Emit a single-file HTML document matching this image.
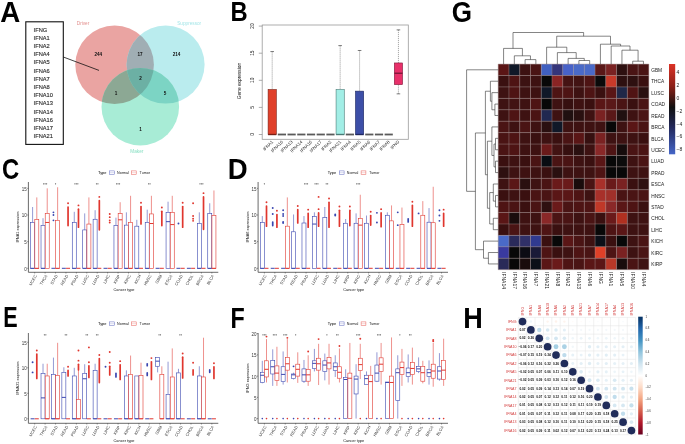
<!DOCTYPE html>
<html><head><meta charset="utf-8"><style>
html,body{margin:0;padding:0;background:#fff;}
svg{display:block;will-change:transform;font-family:"Liberation Sans",sans-serif;}
</style></head><body>
<svg width="685" height="444" viewBox="0 0 685 444">
<rect width="685" height="444" fill="#fff"/>
<text transform="translate(0.31,22.00) scale(0.2772,0.2907)" font-size="100" font-weight="bold" fill="#000">A</text>
<rect x="25.8" y="21.8" width="37.5" height="122.6" fill="none" stroke="#111" stroke-width="1.1"/>
<text x="33.6" y="31.5" font-size="5.7" fill="#2a2a2a" stroke="#2a2a2a" stroke-width="0.12">IFNG</text>
<text x="33.6" y="39.72" font-size="5.7" fill="#2a2a2a" stroke="#2a2a2a" stroke-width="0.12">IFNA1</text>
<text x="33.6" y="47.94" font-size="5.7" fill="#2a2a2a" stroke="#2a2a2a" stroke-width="0.12">IFNA2</text>
<text x="33.6" y="56.16" font-size="5.7" fill="#2a2a2a" stroke="#2a2a2a" stroke-width="0.12">IFNA4</text>
<text x="33.6" y="64.38" font-size="5.7" fill="#2a2a2a" stroke="#2a2a2a" stroke-width="0.12">IFNA5</text>
<text x="33.6" y="72.6" font-size="5.7" fill="#2a2a2a" stroke="#2a2a2a" stroke-width="0.12">IFNA6</text>
<text x="33.6" y="80.82" font-size="5.7" fill="#2a2a2a" stroke="#2a2a2a" stroke-width="0.12">IFNA7</text>
<text x="33.6" y="89.04" font-size="5.7" fill="#2a2a2a" stroke="#2a2a2a" stroke-width="0.12">IFNA8</text>
<text x="33.6" y="97.26" font-size="5.7" fill="#2a2a2a" stroke="#2a2a2a" stroke-width="0.12">IFNA10</text>
<text x="33.6" y="105.48" font-size="5.7" fill="#2a2a2a" stroke="#2a2a2a" stroke-width="0.12">IFNA13</text>
<text x="33.6" y="113.7" font-size="5.7" fill="#2a2a2a" stroke="#2a2a2a" stroke-width="0.12">IFNA14</text>
<text x="33.6" y="121.92" font-size="5.7" fill="#2a2a2a" stroke="#2a2a2a" stroke-width="0.12">IFNA16</text>
<text x="33.6" y="130.14" font-size="5.7" fill="#2a2a2a" stroke="#2a2a2a" stroke-width="0.12">IFNA17</text>
<text x="33.6" y="138.36" font-size="5.7" fill="#2a2a2a" stroke="#2a2a2a" stroke-width="0.12">IFNA21</text>
<defs>
<clipPath id="cR"><circle cx="114.6" cy="64.8" r="39.3"/></clipPath>
<clipPath id="cC"><circle cx="165.6" cy="64.6" r="39.0"/></clipPath>
<clipPath id="cG"><circle cx="140.3" cy="106.7" r="38.8"/></clipPath>
</defs>
<circle cx="114.6" cy="64.8" r="39.3" fill="#eaa4a2"/>
<circle cx="165.6" cy="64.6" r="39.0" fill="#baecee"/>
<circle cx="140.3" cy="106.7" r="38.8" fill="#a8ecd6"/>
<circle cx="165.6" cy="64.6" r="39.0" fill="#a0aeb4" clip-path="url(#cR)"/>
<circle cx="140.3" cy="106.7" r="38.8" fill="#8ca894" clip-path="url(#cR)"/>
<circle cx="140.3" cy="106.7" r="38.8" fill="#7cd4c4" clip-path="url(#cC)"/>
<g clip-path="url(#cC)">
<circle cx="140.3" cy="106.7" r="38.8" fill="#6cb0a4" clip-path="url(#cR)"/>
</g>
<line x1="63.3" y1="57" x2="99" y2="70.4" stroke="#111" stroke-width="0.8"/>
<text x="98.3" y="55.800000000000004" font-size="4.6" font-weight="bold" text-anchor="middle" fill="#111">244</text>
<text x="140" y="55.800000000000004" font-size="4.6" font-weight="bold" text-anchor="middle" fill="#111">17</text>
<text x="176.5" y="55.800000000000004" font-size="4.6" font-weight="bold" text-anchor="middle" fill="#111">214</text>
<text x="140.6" y="80.19999999999999" font-size="4.6" font-weight="bold" text-anchor="middle" fill="#111">2</text>
<text x="116" y="94.89999999999999" font-size="4.6" font-weight="bold" text-anchor="middle" fill="#111">1</text>
<text x="165" y="94.89999999999999" font-size="4.6" font-weight="bold" text-anchor="middle" fill="#111">5</text>
<text x="140.6" y="130.79999999999998" font-size="4.6" font-weight="bold" text-anchor="middle" fill="#111">1</text>
<text x="83" y="24.7" font-size="4.7" text-anchor="middle" fill="#e28e8c">Driver</text>
<text x="189.2" y="24.7" font-size="4.7" text-anchor="middle" fill="#a6e6e8">Suppressor</text>
<text x="136.8" y="152.7" font-size="4.7" text-anchor="middle" fill="#8ae0c4">Maker</text>
<text transform="translate(230.51,20.60) scale(0.2377,0.2849)" font-size="100" font-weight="bold" fill="#000">B</text>
<rect x="262.2" y="25.0" width="146.10000000000002" height="114.30000000000001" fill="none" stroke="#9a9a9a" stroke-width="0.8"/>
<line x1="258.8" y1="134.5" x2="262.2" y2="134.5" stroke="#777" stroke-width="0.6"/>
<text transform="translate(254.3,134.5) rotate(-90)" font-size="4.8" text-anchor="middle" fill="#222">0</text>
<line x1="258.8" y1="107.4" x2="262.2" y2="107.4" stroke="#777" stroke-width="0.6"/>
<text transform="translate(254.3,107.4) rotate(-90)" font-size="4.8" text-anchor="middle" fill="#222">5</text>
<line x1="258.8" y1="80.3" x2="262.2" y2="80.3" stroke="#777" stroke-width="0.6"/>
<text transform="translate(254.3,80.3) rotate(-90)" font-size="4.8" text-anchor="middle" fill="#222">10</text>
<line x1="258.8" y1="53.2" x2="262.2" y2="53.2" stroke="#777" stroke-width="0.6"/>
<text transform="translate(254.3,53.2) rotate(-90)" font-size="4.8" text-anchor="middle" fill="#222">15</text>
<line x1="258.8" y1="26.1" x2="262.2" y2="26.1" stroke="#777" stroke-width="0.6"/>
<text transform="translate(254.3,26.1) rotate(-90)" font-size="4.8" text-anchor="middle" fill="#222">20</text>
<text transform="translate(241.2,81) rotate(-90)" font-size="4.8" text-anchor="middle" fill="#111">Gene expression</text>
<text transform="translate(273.5,142.2) rotate(-45)" font-size="4.4" text-anchor="end" fill="#222">IFNA1</text>
<text transform="translate(283.21,142.2) rotate(-45)" font-size="4.4" text-anchor="end" fill="#222">IFNA10</text>
<text transform="translate(292.92,142.2) rotate(-45)" font-size="4.4" text-anchor="end" fill="#222">IFNA13</text>
<text transform="translate(302.63,142.2) rotate(-45)" font-size="4.4" text-anchor="end" fill="#222">IFNA14</text>
<text transform="translate(312.34,142.2) rotate(-45)" font-size="4.4" text-anchor="end" fill="#222">IFNA16</text>
<text transform="translate(322.05,142.2) rotate(-45)" font-size="4.4" text-anchor="end" fill="#222">IFNA17</text>
<text transform="translate(331.76,142.2) rotate(-45)" font-size="4.4" text-anchor="end" fill="#222">IFNA2</text>
<text transform="translate(341.47,142.2) rotate(-45)" font-size="4.4" text-anchor="end" fill="#222">IFNA21</text>
<text transform="translate(351.18,142.2) rotate(-45)" font-size="4.4" text-anchor="end" fill="#222">IFNA4</text>
<text transform="translate(360.89,142.2) rotate(-45)" font-size="4.4" text-anchor="end" fill="#222">IFNA5</text>
<text transform="translate(370.6,142.2) rotate(-45)" font-size="4.4" text-anchor="end" fill="#222">IFNA6</text>
<text transform="translate(380.31,142.2) rotate(-45)" font-size="4.4" text-anchor="end" fill="#222">IFNA7</text>
<text transform="translate(390.02,142.2) rotate(-45)" font-size="4.4" text-anchor="end" fill="#222">IFNA8</text>
<text transform="translate(399.73,142.2) rotate(-45)" font-size="4.4" text-anchor="end" fill="#222">IFNG</text>
<rect x="277.81" y="133.6" width="8.2" height="1.8" fill="#5a5a5a"/>
<rect x="287.52" y="133.6" width="8.2" height="1.8" fill="#5a5a5a"/>
<rect x="297.23" y="133.6" width="8.2" height="1.8" fill="#5a5a5a"/>
<rect x="306.94" y="133.6" width="8.2" height="1.8" fill="#5a5a5a"/>
<rect x="316.65" y="133.6" width="8.2" height="1.8" fill="#5a5a5a"/>
<rect x="326.36" y="133.6" width="8.2" height="1.8" fill="#5a5a5a"/>
<rect x="345.78" y="133.6" width="8.2" height="1.8" fill="#5a5a5a"/>
<rect x="365.2" y="133.6" width="8.2" height="1.8" fill="#5a5a5a"/>
<rect x="374.91" y="133.6" width="8.2" height="1.8" fill="#5a5a5a"/>
<rect x="384.62" y="133.6" width="8.2" height="1.8" fill="#5a5a5a"/>
<line x1="272.2" y1="51.57" x2="272.2" y2="89.51" stroke="#555" stroke-width="0.6" stroke-dasharray="1,1"/>
<line x1="270.4" y1="51.57" x2="274" y2="51.57" stroke="#444" stroke-width="0.7"/>
<rect x="268.1" y="89.51" width="8.2" height="44.99" fill="#e0402a" stroke="#7a2016" stroke-width="0.6"/>
<line x1="268.1" y1="134.5" x2="276.3" y2="134.5" stroke="#7a2016" stroke-width="1.4"/>
<line x1="340.17" y1="45.61" x2="340.17" y2="89.51" stroke="#555" stroke-width="0.6" stroke-dasharray="1,1"/>
<line x1="338.37" y1="45.61" x2="341.97" y2="45.61" stroke="#444" stroke-width="0.7"/>
<rect x="336.07" y="89.51" width="8.2" height="44.99" fill="#a2eee6" stroke="#4a7a76" stroke-width="0.6"/>
<line x1="336.07" y1="134.5" x2="344.27" y2="134.5" stroke="#4a7a76" stroke-width="1.4"/>
<line x1="359.59" y1="50.49" x2="359.59" y2="91.14" stroke="#555" stroke-width="0.6" stroke-dasharray="1,1"/>
<line x1="357.79" y1="50.49" x2="361.39" y2="50.49" stroke="#444" stroke-width="0.7"/>
<rect x="355.49" y="91.14" width="8.2" height="43.36" fill="#3d4fa8" stroke="#1f2860" stroke-width="0.6"/>
<line x1="355.49" y1="134.5" x2="363.69" y2="134.5" stroke="#1f2860" stroke-width="1.4"/>
<line x1="398.43" y1="29.89" x2="398.43" y2="62.96" stroke="#555" stroke-width="0.6" stroke-dasharray="1,1"/>
<line x1="396.63" y1="29.89" x2="400.23" y2="29.89" stroke="#444" stroke-width="0.7"/>
<line x1="398.43" y1="84.64" x2="398.43" y2="93.85" stroke="#555" stroke-width="0.6" stroke-dasharray="1,1"/>
<line x1="396.63" y1="93.85" x2="400.23" y2="93.85" stroke="#444" stroke-width="0.7"/>
<rect x="394.33" y="62.96" width="8.2" height="21.68" fill="#e8306a" stroke="#80183a" stroke-width="0.6"/>
<line x1="394.33" y1="73.25" x2="402.53" y2="73.25" stroke="#80183a" stroke-width="1.4"/>
<text transform="translate(2.02,179.41) scale(0.2385,0.2910)" font-size="100" font-weight="bold" fill="#000">C</text>
<line x1="28.4" y1="182" x2="28.4" y2="272.3" stroke="#5a5a5a" stroke-width="0.9"/>
<line x1="28.4" y1="272.3" x2="218.3" y2="272.3" stroke="#5a5a5a" stroke-width="0.9"/>
<line x1="27.2" y1="268.3" x2="28.4" y2="268.3" stroke="#333" stroke-width="0.5"/>
<text transform="translate(26.8,270.7) scale(0.85,1)" font-size="5.3" text-anchor="end" fill="#333">0</text>
<line x1="27.2" y1="241.65" x2="28.4" y2="241.65" stroke="#333" stroke-width="0.5"/>
<text transform="translate(26.8,244.05) scale(0.85,1)" font-size="5.3" text-anchor="end" fill="#333">5</text>
<line x1="27.2" y1="215" x2="28.4" y2="215" stroke="#333" stroke-width="0.5"/>
<text transform="translate(26.8,217.4) scale(0.85,1)" font-size="5.3" text-anchor="end" fill="#333">10</text>
<line x1="27.2" y1="188.35" x2="28.4" y2="188.35" stroke="#333" stroke-width="0.5"/>
<text transform="translate(26.8,190.75) scale(0.85,1)" font-size="5.3" text-anchor="end" fill="#333">15</text>
<text transform="translate(18.9,227.15) rotate(-90)" font-size="3.9" text-anchor="middle" fill="#111">IFNA1 expression</text>
<line x1="34.7" y1="272.3" x2="34.7" y2="273.5" stroke="#333" stroke-width="0.5"/>
<text transform="translate(37.1,275.8) rotate(-60)" font-size="4.1" text-anchor="end" fill="#333">UCEC</text>
<line x1="45.12" y1="272.3" x2="45.12" y2="273.5" stroke="#333" stroke-width="0.5"/>
<text transform="translate(47.52,275.8) rotate(-60)" font-size="4.1" text-anchor="end" fill="#333">THCA</text>
<line x1="55.54" y1="272.3" x2="55.54" y2="273.5" stroke="#333" stroke-width="0.5"/>
<text transform="translate(57.94,275.8) rotate(-60)" font-size="4.1" text-anchor="end" fill="#333">STAD</text>
<line x1="65.96" y1="272.3" x2="65.96" y2="273.5" stroke="#333" stroke-width="0.5"/>
<text transform="translate(68.36,275.8) rotate(-60)" font-size="4.1" text-anchor="end" fill="#333">READ</text>
<line x1="76.38" y1="272.3" x2="76.38" y2="273.5" stroke="#333" stroke-width="0.5"/>
<text transform="translate(78.78,275.8) rotate(-60)" font-size="4.1" text-anchor="end" fill="#333">PRAD</text>
<line x1="86.8" y1="272.3" x2="86.8" y2="273.5" stroke="#333" stroke-width="0.5"/>
<text transform="translate(89.2,275.8) rotate(-60)" font-size="4.1" text-anchor="end" fill="#333">LUSC</text>
<line x1="97.22" y1="272.3" x2="97.22" y2="273.5" stroke="#333" stroke-width="0.5"/>
<text transform="translate(99.62,275.8) rotate(-60)" font-size="4.1" text-anchor="end" fill="#333">LUAD</text>
<line x1="107.64" y1="272.3" x2="107.64" y2="273.5" stroke="#333" stroke-width="0.5"/>
<text transform="translate(110.04,275.8) rotate(-60)" font-size="4.1" text-anchor="end" fill="#333">LIHC</text>
<line x1="118.06" y1="272.3" x2="118.06" y2="273.5" stroke="#333" stroke-width="0.5"/>
<text transform="translate(120.46,275.8) rotate(-60)" font-size="4.1" text-anchor="end" fill="#333">KIRP</text>
<line x1="128.48" y1="272.3" x2="128.48" y2="273.5" stroke="#333" stroke-width="0.5"/>
<text transform="translate(130.88,275.8) rotate(-60)" font-size="4.1" text-anchor="end" fill="#333">KIRC</text>
<line x1="138.9" y1="272.3" x2="138.9" y2="273.5" stroke="#333" stroke-width="0.5"/>
<text transform="translate(141.3,275.8) rotate(-60)" font-size="4.1" text-anchor="end" fill="#333">KICH</text>
<line x1="149.32" y1="272.3" x2="149.32" y2="273.5" stroke="#333" stroke-width="0.5"/>
<text transform="translate(151.72,275.8) rotate(-60)" font-size="4.1" text-anchor="end" fill="#333">HNSC</text>
<line x1="159.74" y1="272.3" x2="159.74" y2="273.5" stroke="#333" stroke-width="0.5"/>
<text transform="translate(162.14,275.8) rotate(-60)" font-size="4.1" text-anchor="end" fill="#333">GBM</text>
<line x1="170.16" y1="272.3" x2="170.16" y2="273.5" stroke="#333" stroke-width="0.5"/>
<text transform="translate(172.56,275.8) rotate(-60)" font-size="4.1" text-anchor="end" fill="#333">ESCA</text>
<line x1="180.58" y1="272.3" x2="180.58" y2="273.5" stroke="#333" stroke-width="0.5"/>
<text transform="translate(182.98,275.8) rotate(-60)" font-size="4.1" text-anchor="end" fill="#333">COAD</text>
<line x1="191" y1="272.3" x2="191" y2="273.5" stroke="#333" stroke-width="0.5"/>
<text transform="translate(193.4,275.8) rotate(-60)" font-size="4.1" text-anchor="end" fill="#333">CHOL</text>
<line x1="201.42" y1="272.3" x2="201.42" y2="273.5" stroke="#333" stroke-width="0.5"/>
<text transform="translate(203.82,275.8) rotate(-60)" font-size="4.1" text-anchor="end" fill="#333">BRCA</text>
<line x1="211.84" y1="272.3" x2="211.84" y2="273.5" stroke="#333" stroke-width="0.5"/>
<text transform="translate(214.24,275.8) rotate(-60)" font-size="4.1" text-anchor="end" fill="#333">BLCA</text>
<text x="124" y="290.9" font-size="3.9" text-anchor="middle" fill="#111">Cancer type</text>
<text x="98" y="174.1" font-size="3.9" fill="#000">Type</text>
<rect x="109.6" y="170.9" width="4.8" height="3.6" fill="#fff" stroke="#3a46b0" stroke-width="0.5" stroke-opacity="0.8"/>
<line x1="109.6" y1="172.7" x2="114.4" y2="172.7" stroke="#3a46b0" stroke-width="0.4" stroke-opacity="0.5"/>
<text x="117.1" y="174" font-size="3.6" fill="#111">Normal</text>
<rect x="131.4" y="170.9" width="4.8" height="3.6" fill="#fff" stroke="#e0362e" stroke-width="0.5" stroke-opacity="0.8"/>
<line x1="131.4" y1="172.7" x2="136.2" y2="172.7" stroke="#e0362e" stroke-width="0.4" stroke-opacity="0.5"/>
<text x="139.6" y="174" font-size="3.6" fill="#111">Tumor</text>
<circle cx="43.67" cy="183.8" r="0.62" fill="#555"/>
<circle cx="45.12" cy="183.8" r="0.62" fill="#555"/>
<circle cx="46.57" cy="183.8" r="0.62" fill="#555"/>
<circle cx="55.54" cy="183.8" r="0.62" fill="#555"/>
<circle cx="74.93" cy="183.8" r="0.62" fill="#555"/>
<circle cx="76.38" cy="183.8" r="0.62" fill="#555"/>
<circle cx="77.83" cy="183.8" r="0.62" fill="#555"/>
<circle cx="96.5" cy="183.8" r="0.62" fill="#555"/>
<circle cx="97.94" cy="183.8" r="0.62" fill="#555"/>
<circle cx="116.61" cy="183.8" r="0.62" fill="#555"/>
<circle cx="118.06" cy="183.8" r="0.62" fill="#555"/>
<circle cx="119.51" cy="183.8" r="0.62" fill="#555"/>
<circle cx="148.59" cy="183.8" r="0.62" fill="#555"/>
<circle cx="150.04" cy="183.8" r="0.62" fill="#555"/>
<circle cx="199.97" cy="183.8" r="0.62" fill="#555"/>
<circle cx="201.42" cy="183.8" r="0.62" fill="#555"/>
<circle cx="202.87" cy="183.8" r="0.62" fill="#555"/>
<line x1="32.6" y1="207" x2="32.6" y2="222.46" stroke="#3a46b0" stroke-width="0.55"/>
<rect x="30.6" y="222.46" width="4" height="45.84" fill="#fff" stroke="#3a46b0" stroke-width="0.6"/>
<line x1="30.6" y1="268.3" x2="34.6" y2="268.3" stroke="#3a46b0" stroke-width="1.0"/>
<line x1="36.8" y1="197.41" x2="36.8" y2="219.53" stroke="#e0362e" stroke-width="0.55"/>
<rect x="34.8" y="219.53" width="4" height="48.77" fill="#fff" stroke="#e0362e" stroke-width="0.6"/>
<line x1="34.8" y1="268.3" x2="38.8" y2="268.3" stroke="#e0362e" stroke-width="1.0"/>
<line x1="43.02" y1="218.2" x2="43.02" y2="225.66" stroke="#3a46b0" stroke-width="0.55"/>
<rect x="41.02" y="225.66" width="4" height="42.64" fill="#fff" stroke="#3a46b0" stroke-width="0.6"/>
<line x1="41.02" y1="268.3" x2="45.02" y2="268.3" stroke="#3a46b0" stroke-width="1.0"/>
<line x1="47.22" y1="188.35" x2="47.22" y2="213.4" stroke="#e0362e" stroke-width="0.55"/>
<rect x="45.22" y="213.4" width="4" height="54.9" fill="#fff" stroke="#e0362e" stroke-width="0.6"/>
<line x1="45.22" y1="222.46" x2="49.22" y2="222.46" stroke="#e0362e" stroke-width="1.0"/>
<line x1="51.44" y1="268.3" x2="55.44" y2="268.3" stroke="#3a46b0" stroke-width="1.0"/>
<circle cx="53.44" cy="212.34" r="0.95" fill="#3a46b0"/>
<circle cx="53.44" cy="215" r="0.95" fill="#3a46b0"/>
<circle cx="53.44" cy="220.33" r="0.95" fill="#3a46b0"/>
<line x1="57.64" y1="187.28" x2="57.64" y2="220.33" stroke="#e0362e" stroke-width="0.55"/>
<rect x="55.64" y="220.33" width="4" height="47.97" fill="#fff" stroke="#e0362e" stroke-width="0.6"/>
<line x1="55.64" y1="268.3" x2="59.64" y2="268.3" stroke="#e0362e" stroke-width="1.0"/>
<line x1="61.86" y1="268.3" x2="65.86" y2="268.3" stroke="#3a46b0" stroke-width="1.0"/>
<line x1="66.06" y1="268.3" x2="70.06" y2="268.3" stroke="#e0362e" stroke-width="1.0"/>
<circle cx="68.06" cy="203.27" r="0.95" fill="#e0362e"/>
<rect x="67.21" y="206.2" width="1.7" height="20.26" rx="0.85" fill="#e0362e"/>
<line x1="74.28" y1="211.8" x2="74.28" y2="222.46" stroke="#3a46b0" stroke-width="0.55"/>
<rect x="72.28" y="222.46" width="4" height="45.84" fill="#fff" stroke="#3a46b0" stroke-width="0.6"/>
<line x1="72.28" y1="268.3" x2="76.28" y2="268.3" stroke="#3a46b0" stroke-width="1.0"/>
<line x1="76.48" y1="268.3" x2="80.48" y2="268.3" stroke="#e0362e" stroke-width="1.0"/>
<circle cx="78.48" cy="205.41" r="0.95" fill="#e0362e"/>
<rect x="77.63" y="208.34" width="1.7" height="19.72" rx="0.85" fill="#e0362e"/>
<line x1="84.7" y1="213.4" x2="84.7" y2="229.92" stroke="#3a46b0" stroke-width="0.55"/>
<rect x="82.7" y="229.92" width="4" height="38.38" fill="#fff" stroke="#3a46b0" stroke-width="0.6"/>
<line x1="82.7" y1="268.3" x2="86.7" y2="268.3" stroke="#3a46b0" stroke-width="1.0"/>
<line x1="88.9" y1="197.41" x2="88.9" y2="224.06" stroke="#e0362e" stroke-width="0.55"/>
<rect x="86.9" y="224.06" width="4" height="44.24" fill="#fff" stroke="#e0362e" stroke-width="0.6"/>
<line x1="86.9" y1="268.3" x2="90.9" y2="268.3" stroke="#e0362e" stroke-width="1.0"/>
<line x1="95.12" y1="210.2" x2="95.12" y2="219.26" stroke="#3a46b0" stroke-width="0.55"/>
<rect x="93.12" y="219.26" width="4" height="49.04" fill="#fff" stroke="#3a46b0" stroke-width="0.6"/>
<line x1="93.12" y1="268.3" x2="97.12" y2="268.3" stroke="#3a46b0" stroke-width="1.0"/>
<line x1="97.32" y1="268.3" x2="101.32" y2="268.3" stroke="#e0362e" stroke-width="1.0"/>
<circle cx="99.32" cy="196.88" r="0.95" fill="#e0362e"/>
<rect x="98.47" y="199.81" width="1.7" height="30.91" rx="0.85" fill="#e0362e"/>
<line x1="103.54" y1="268.3" x2="107.54" y2="268.3" stroke="#3a46b0" stroke-width="1.0"/>
<line x1="107.74" y1="268.3" x2="111.74" y2="268.3" stroke="#e0362e" stroke-width="1.0"/>
<circle cx="109.74" cy="213.93" r="0.95" fill="#e0362e"/>
<circle cx="109.74" cy="217.13" r="0.95" fill="#e0362e"/>
<circle cx="109.74" cy="220.33" r="0.95" fill="#e0362e"/>
<circle cx="109.74" cy="222.46" r="0.95" fill="#e0362e"/>
<line x1="115.96" y1="217.67" x2="115.96" y2="225.66" stroke="#3a46b0" stroke-width="0.55"/>
<rect x="113.96" y="225.66" width="4" height="42.64" fill="#fff" stroke="#3a46b0" stroke-width="0.6"/>
<line x1="113.96" y1="268.3" x2="117.96" y2="268.3" stroke="#3a46b0" stroke-width="1.0"/>
<line x1="120.16" y1="202.21" x2="120.16" y2="213.67" stroke="#e0362e" stroke-width="0.55"/>
<rect x="118.16" y="213.67" width="4" height="54.63" fill="#fff" stroke="#e0362e" stroke-width="0.6"/>
<line x1="118.16" y1="219.8" x2="122.16" y2="219.8" stroke="#e0362e" stroke-width="1.0"/>
<line x1="126.38" y1="212.34" x2="126.38" y2="225.13" stroke="#3a46b0" stroke-width="0.55"/>
<rect x="124.38" y="225.13" width="4" height="43.17" fill="#fff" stroke="#3a46b0" stroke-width="0.6"/>
<line x1="124.38" y1="268.3" x2="128.38" y2="268.3" stroke="#3a46b0" stroke-width="1.0"/>
<line x1="130.58" y1="195.81" x2="130.58" y2="222.46" stroke="#e0362e" stroke-width="0.55"/>
<rect x="128.58" y="222.46" width="4" height="45.84" fill="#fff" stroke="#e0362e" stroke-width="0.6"/>
<line x1="128.58" y1="268.3" x2="132.58" y2="268.3" stroke="#e0362e" stroke-width="1.0"/>
<line x1="136.8" y1="219.8" x2="136.8" y2="226.19" stroke="#3a46b0" stroke-width="0.55"/>
<rect x="134.8" y="226.19" width="4" height="42.11" fill="#fff" stroke="#3a46b0" stroke-width="0.6"/>
<line x1="134.8" y1="268.3" x2="138.8" y2="268.3" stroke="#3a46b0" stroke-width="1.0"/>
<line x1="139" y1="268.3" x2="143" y2="268.3" stroke="#e0362e" stroke-width="1.0"/>
<circle cx="141" cy="202.74" r="0.95" fill="#e0362e"/>
<rect x="140.15" y="205.67" width="1.7" height="19.19" rx="0.85" fill="#e0362e"/>
<line x1="147.22" y1="209.67" x2="147.22" y2="222.46" stroke="#3a46b0" stroke-width="0.55"/>
<rect x="145.22" y="222.46" width="4" height="45.84" fill="#fff" stroke="#3a46b0" stroke-width="0.6"/>
<line x1="145.22" y1="268.3" x2="149.22" y2="268.3" stroke="#3a46b0" stroke-width="1.0"/>
<line x1="151.42" y1="195.81" x2="151.42" y2="213.93" stroke="#e0362e" stroke-width="0.55"/>
<rect x="149.42" y="213.93" width="4" height="54.37" fill="#fff" stroke="#e0362e" stroke-width="0.6"/>
<line x1="149.42" y1="223.53" x2="153.42" y2="223.53" stroke="#e0362e" stroke-width="1.0"/>
<line x1="155.64" y1="268.3" x2="159.64" y2="268.3" stroke="#3a46b0" stroke-width="1.0"/>
<line x1="159.84" y1="268.3" x2="163.84" y2="268.3" stroke="#e0362e" stroke-width="1.0"/>
<circle cx="161.84" cy="207.54" r="0.95" fill="#e0362e"/>
<rect x="160.99" y="210.47" width="1.7" height="15.99" rx="0.85" fill="#e0362e"/>
<line x1="168.06" y1="201.68" x2="168.06" y2="212.34" stroke="#3a46b0" stroke-width="0.55"/>
<rect x="166.06" y="212.34" width="4" height="55.97" fill="#fff" stroke="#3a46b0" stroke-width="0.6"/>
<line x1="166.06" y1="221.66" x2="170.06" y2="221.66" stroke="#3a46b0" stroke-width="1.0"/>
<line x1="172.26" y1="195.81" x2="172.26" y2="212.34" stroke="#e0362e" stroke-width="0.55"/>
<rect x="170.26" y="212.34" width="4" height="55.97" fill="#fff" stroke="#e0362e" stroke-width="0.6"/>
<line x1="170.26" y1="224.59" x2="174.26" y2="224.59" stroke="#e0362e" stroke-width="1.0"/>
<line x1="176.48" y1="268.3" x2="180.48" y2="268.3" stroke="#3a46b0" stroke-width="1.0"/>
<circle cx="178.48" cy="223.53" r="0.95" fill="#3a46b0"/>
<line x1="180.68" y1="268.3" x2="184.68" y2="268.3" stroke="#e0362e" stroke-width="1.0"/>
<circle cx="182.68" cy="202.74" r="0.95" fill="#e0362e"/>
<rect x="181.83" y="205.67" width="1.7" height="22.39" rx="0.85" fill="#e0362e"/>
<line x1="186.9" y1="268.3" x2="190.9" y2="268.3" stroke="#3a46b0" stroke-width="1.0"/>
<line x1="191.1" y1="268.3" x2="195.1" y2="268.3" stroke="#e0362e" stroke-width="1.0"/>
<circle cx="193.1" cy="203.27" r="0.95" fill="#e0362e"/>
<circle cx="193.1" cy="216.07" r="0.95" fill="#e0362e"/>
<circle cx="193.1" cy="218.73" r="0.95" fill="#e0362e"/>
<circle cx="193.1" cy="220.86" r="0.95" fill="#e0362e"/>
<line x1="199.32" y1="212.34" x2="199.32" y2="223.53" stroke="#3a46b0" stroke-width="0.55"/>
<rect x="197.32" y="223.53" width="4" height="44.77" fill="#fff" stroke="#3a46b0" stroke-width="0.6"/>
<line x1="197.32" y1="268.3" x2="201.32" y2="268.3" stroke="#3a46b0" stroke-width="1.0"/>
<line x1="201.52" y1="268.3" x2="205.52" y2="268.3" stroke="#e0362e" stroke-width="1.0"/>
<circle cx="203.52" cy="193.15" r="0.95" fill="#e0362e"/>
<rect x="202.67" y="196.08" width="1.7" height="34.11" rx="0.85" fill="#e0362e"/>
<line x1="209.74" y1="203.27" x2="209.74" y2="213.67" stroke="#3a46b0" stroke-width="0.55"/>
<rect x="207.74" y="213.67" width="4" height="54.63" fill="#fff" stroke="#3a46b0" stroke-width="0.6"/>
<line x1="207.74" y1="268.3" x2="211.74" y2="268.3" stroke="#3a46b0" stroke-width="1.0"/>
<line x1="213.94" y1="190.48" x2="213.94" y2="215.53" stroke="#e0362e" stroke-width="0.55"/>
<rect x="211.94" y="215.53" width="4" height="52.77" fill="#fff" stroke="#e0362e" stroke-width="0.6"/>
<line x1="211.94" y1="268.3" x2="215.94" y2="268.3" stroke="#e0362e" stroke-width="1.0"/>
<text transform="translate(227.85,179.30) scale(0.2757,0.2863)" font-size="100" font-weight="bold" fill="#000">D</text>
<line x1="258.1" y1="182" x2="258.1" y2="272.3" stroke="#5a5a5a" stroke-width="0.9"/>
<line x1="258.1" y1="272.3" x2="448" y2="272.3" stroke="#5a5a5a" stroke-width="0.9"/>
<line x1="256.9" y1="268.3" x2="258.1" y2="268.3" stroke="#333" stroke-width="0.5"/>
<text transform="translate(256.5,270.7) scale(0.85,1)" font-size="5.3" text-anchor="end" fill="#333">0</text>
<line x1="256.9" y1="241.65" x2="258.1" y2="241.65" stroke="#333" stroke-width="0.5"/>
<text transform="translate(256.5,244.05) scale(0.85,1)" font-size="5.3" text-anchor="end" fill="#333">5</text>
<line x1="256.9" y1="215" x2="258.1" y2="215" stroke="#333" stroke-width="0.5"/>
<text transform="translate(256.5,217.4) scale(0.85,1)" font-size="5.3" text-anchor="end" fill="#333">10</text>
<line x1="256.9" y1="188.35" x2="258.1" y2="188.35" stroke="#333" stroke-width="0.5"/>
<text transform="translate(256.5,190.75) scale(0.85,1)" font-size="5.3" text-anchor="end" fill="#333">15</text>
<text transform="translate(248.6,227.15) rotate(-90)" font-size="3.9" text-anchor="middle" fill="#111">IFNA6 expression</text>
<line x1="264.4" y1="272.3" x2="264.4" y2="273.5" stroke="#333" stroke-width="0.5"/>
<text transform="translate(266.8,275.8) rotate(-60)" font-size="4.1" text-anchor="end" fill="#333">UCEC</text>
<line x1="274.82" y1="272.3" x2="274.82" y2="273.5" stroke="#333" stroke-width="0.5"/>
<text transform="translate(277.22,275.8) rotate(-60)" font-size="4.1" text-anchor="end" fill="#333">THCA</text>
<line x1="285.24" y1="272.3" x2="285.24" y2="273.5" stroke="#333" stroke-width="0.5"/>
<text transform="translate(287.64,275.8) rotate(-60)" font-size="4.1" text-anchor="end" fill="#333">STAD</text>
<line x1="295.66" y1="272.3" x2="295.66" y2="273.5" stroke="#333" stroke-width="0.5"/>
<text transform="translate(298.06,275.8) rotate(-60)" font-size="4.1" text-anchor="end" fill="#333">READ</text>
<line x1="306.08" y1="272.3" x2="306.08" y2="273.5" stroke="#333" stroke-width="0.5"/>
<text transform="translate(308.48,275.8) rotate(-60)" font-size="4.1" text-anchor="end" fill="#333">PRAD</text>
<line x1="316.5" y1="272.3" x2="316.5" y2="273.5" stroke="#333" stroke-width="0.5"/>
<text transform="translate(318.9,275.8) rotate(-60)" font-size="4.1" text-anchor="end" fill="#333">LUSC</text>
<line x1="326.92" y1="272.3" x2="326.92" y2="273.5" stroke="#333" stroke-width="0.5"/>
<text transform="translate(329.32,275.8) rotate(-60)" font-size="4.1" text-anchor="end" fill="#333">LUAD</text>
<line x1="337.34" y1="272.3" x2="337.34" y2="273.5" stroke="#333" stroke-width="0.5"/>
<text transform="translate(339.74,275.8) rotate(-60)" font-size="4.1" text-anchor="end" fill="#333">LIHC</text>
<line x1="347.76" y1="272.3" x2="347.76" y2="273.5" stroke="#333" stroke-width="0.5"/>
<text transform="translate(350.16,275.8) rotate(-60)" font-size="4.1" text-anchor="end" fill="#333">KIRP</text>
<line x1="358.18" y1="272.3" x2="358.18" y2="273.5" stroke="#333" stroke-width="0.5"/>
<text transform="translate(360.58,275.8) rotate(-60)" font-size="4.1" text-anchor="end" fill="#333">KIRC</text>
<line x1="368.6" y1="272.3" x2="368.6" y2="273.5" stroke="#333" stroke-width="0.5"/>
<text transform="translate(371,275.8) rotate(-60)" font-size="4.1" text-anchor="end" fill="#333">KICH</text>
<line x1="379.02" y1="272.3" x2="379.02" y2="273.5" stroke="#333" stroke-width="0.5"/>
<text transform="translate(381.42,275.8) rotate(-60)" font-size="4.1" text-anchor="end" fill="#333">HNSC</text>
<line x1="389.44" y1="272.3" x2="389.44" y2="273.5" stroke="#333" stroke-width="0.5"/>
<text transform="translate(391.84,275.8) rotate(-60)" font-size="4.1" text-anchor="end" fill="#333">GBM</text>
<line x1="399.86" y1="272.3" x2="399.86" y2="273.5" stroke="#333" stroke-width="0.5"/>
<text transform="translate(402.26,275.8) rotate(-60)" font-size="4.1" text-anchor="end" fill="#333">ESCA</text>
<line x1="410.28" y1="272.3" x2="410.28" y2="273.5" stroke="#333" stroke-width="0.5"/>
<text transform="translate(412.68,275.8) rotate(-60)" font-size="4.1" text-anchor="end" fill="#333">COAD</text>
<line x1="420.7" y1="272.3" x2="420.7" y2="273.5" stroke="#333" stroke-width="0.5"/>
<text transform="translate(423.1,275.8) rotate(-60)" font-size="4.1" text-anchor="end" fill="#333">CHOL</text>
<line x1="431.12" y1="272.3" x2="431.12" y2="273.5" stroke="#333" stroke-width="0.5"/>
<text transform="translate(433.52,275.8) rotate(-60)" font-size="4.1" text-anchor="end" fill="#333">BRCA</text>
<line x1="441.54" y1="272.3" x2="441.54" y2="273.5" stroke="#333" stroke-width="0.5"/>
<text transform="translate(443.94,275.8) rotate(-60)" font-size="4.1" text-anchor="end" fill="#333">BLCA</text>
<text x="353.7" y="290.9" font-size="3.9" text-anchor="middle" fill="#111">Cancer type</text>
<text x="327.7" y="174.1" font-size="3.9" fill="#000">Type</text>
<rect x="339.3" y="170.9" width="4.8" height="3.6" fill="#fff" stroke="#3a46b0" stroke-width="0.5" stroke-opacity="0.8"/>
<line x1="339.3" y1="172.7" x2="344.1" y2="172.7" stroke="#3a46b0" stroke-width="0.4" stroke-opacity="0.5"/>
<text x="346.8" y="174" font-size="3.6" fill="#111">Normal</text>
<rect x="361.1" y="170.9" width="4.8" height="3.6" fill="#fff" stroke="#e0362e" stroke-width="0.5" stroke-opacity="0.8"/>
<line x1="361.1" y1="172.7" x2="365.9" y2="172.7" stroke="#e0362e" stroke-width="0.4" stroke-opacity="0.5"/>
<text x="369.3" y="174" font-size="3.6" fill="#111">Tumor</text>
<circle cx="264.4" cy="183.8" r="0.62" fill="#555"/>
<circle cx="304.63" cy="183.8" r="0.62" fill="#555"/>
<circle cx="306.08" cy="183.8" r="0.62" fill="#555"/>
<circle cx="307.53" cy="183.8" r="0.62" fill="#555"/>
<circle cx="315.05" cy="183.8" r="0.62" fill="#555"/>
<circle cx="316.5" cy="183.8" r="0.62" fill="#555"/>
<circle cx="317.95" cy="183.8" r="0.62" fill="#555"/>
<circle cx="326.19" cy="183.8" r="0.62" fill="#555"/>
<circle cx="327.64" cy="183.8" r="0.62" fill="#555"/>
<circle cx="356.73" cy="183.8" r="0.62" fill="#555"/>
<circle cx="358.18" cy="183.8" r="0.62" fill="#555"/>
<circle cx="359.63" cy="183.8" r="0.62" fill="#555"/>
<line x1="262.3" y1="216.07" x2="262.3" y2="222.46" stroke="#3a46b0" stroke-width="0.55"/>
<rect x="260.3" y="222.46" width="4" height="45.84" fill="#fff" stroke="#3a46b0" stroke-width="0.6"/>
<line x1="260.3" y1="268.3" x2="264.3" y2="268.3" stroke="#3a46b0" stroke-width="1.0"/>
<line x1="264.5" y1="268.3" x2="268.5" y2="268.3" stroke="#e0362e" stroke-width="1.0"/>
<circle cx="266.5" cy="202.21" r="0.95" fill="#e0362e"/>
<rect x="265.65" y="205.14" width="1.7" height="21.85" rx="0.85" fill="#e0362e"/>
<line x1="270.72" y1="268.3" x2="274.72" y2="268.3" stroke="#3a46b0" stroke-width="1.0"/>
<circle cx="272.72" cy="208.07" r="0.95" fill="#3a46b0"/>
<circle cx="272.72" cy="213.93" r="0.95" fill="#3a46b0"/>
<rect x="271.87" y="221.13" width="1.7" height="5.33" rx="0.85" fill="#3a46b0"/>
<line x1="274.92" y1="268.3" x2="278.92" y2="268.3" stroke="#e0362e" stroke-width="1.0"/>
<circle cx="276.92" cy="210.74" r="0.95" fill="#e0362e"/>
<rect x="276.07" y="213.67" width="1.7" height="14.39" rx="0.85" fill="#e0362e"/>
<line x1="281.14" y1="268.3" x2="285.14" y2="268.3" stroke="#3a46b0" stroke-width="1.0"/>
<circle cx="283.14" cy="210.2" r="0.95" fill="#3a46b0"/>
<circle cx="283.14" cy="213.93" r="0.95" fill="#3a46b0"/>
<circle cx="283.14" cy="216.07" r="0.95" fill="#3a46b0"/>
<circle cx="283.14" cy="221.93" r="0.95" fill="#3a46b0"/>
<circle cx="283.14" cy="223" r="0.95" fill="#3a46b0"/>
<line x1="287.34" y1="197.41" x2="287.34" y2="226.19" stroke="#e0362e" stroke-width="0.55"/>
<rect x="285.34" y="226.19" width="4" height="42.11" fill="#fff" stroke="#e0362e" stroke-width="0.6"/>
<line x1="285.34" y1="268.3" x2="289.34" y2="268.3" stroke="#e0362e" stroke-width="1.0"/>
<line x1="293.56" y1="214.47" x2="293.56" y2="231.79" stroke="#3a46b0" stroke-width="0.55"/>
<rect x="291.56" y="231.79" width="4" height="36.51" fill="#fff" stroke="#3a46b0" stroke-width="0.6"/>
<line x1="291.56" y1="268.3" x2="295.56" y2="268.3" stroke="#3a46b0" stroke-width="1.0"/>
<line x1="295.76" y1="268.3" x2="299.76" y2="268.3" stroke="#e0362e" stroke-width="1.0"/>
<circle cx="297.76" cy="205.94" r="0.95" fill="#e0362e"/>
<rect x="296.91" y="208.87" width="1.7" height="14.92" rx="0.85" fill="#e0362e"/>
<line x1="303.98" y1="216.07" x2="303.98" y2="223" stroke="#3a46b0" stroke-width="0.55"/>
<rect x="301.98" y="223" width="4" height="45.31" fill="#fff" stroke="#3a46b0" stroke-width="0.6"/>
<line x1="301.98" y1="268.3" x2="305.98" y2="268.3" stroke="#3a46b0" stroke-width="1.0"/>
<line x1="306.18" y1="268.3" x2="310.18" y2="268.3" stroke="#e0362e" stroke-width="1.0"/>
<circle cx="308.18" cy="209.67" r="0.95" fill="#e0362e"/>
<rect x="307.33" y="212.6" width="1.7" height="15.46" rx="0.85" fill="#e0362e"/>
<line x1="314.4" y1="212.34" x2="314.4" y2="216.6" stroke="#3a46b0" stroke-width="0.55"/>
<rect x="312.4" y="216.6" width="4" height="51.7" fill="#fff" stroke="#3a46b0" stroke-width="0.6"/>
<line x1="312.4" y1="224.06" x2="316.4" y2="224.06" stroke="#3a46b0" stroke-width="1.0"/>
<line x1="316.6" y1="268.3" x2="320.6" y2="268.3" stroke="#e0362e" stroke-width="1.0"/>
<circle cx="318.6" cy="196.88" r="0.95" fill="#e0362e"/>
<circle cx="318.6" cy="209.14" r="0.95" fill="#e0362e"/>
<rect x="317.75" y="212.07" width="1.7" height="14.93" rx="0.85" fill="#e0362e"/>
<line x1="324.82" y1="207" x2="324.82" y2="217.67" stroke="#3a46b0" stroke-width="0.55"/>
<rect x="322.82" y="217.67" width="4" height="50.63" fill="#fff" stroke="#3a46b0" stroke-width="0.6"/>
<line x1="322.82" y1="268.3" x2="326.82" y2="268.3" stroke="#3a46b0" stroke-width="1.0"/>
<line x1="327.02" y1="268.3" x2="331.02" y2="268.3" stroke="#e0362e" stroke-width="1.0"/>
<circle cx="329.02" cy="198.48" r="0.95" fill="#e0362e"/>
<rect x="328.17" y="201.41" width="1.7" height="26.65" rx="0.85" fill="#e0362e"/>
<line x1="333.24" y1="268.3" x2="337.24" y2="268.3" stroke="#3a46b0" stroke-width="1.0"/>
<circle cx="335.24" cy="214.47" r="0.95" fill="#3a46b0"/>
<circle cx="335.24" cy="215.53" r="0.95" fill="#3a46b0"/>
<line x1="337.44" y1="268.3" x2="341.44" y2="268.3" stroke="#e0362e" stroke-width="1.0"/>
<circle cx="339.44" cy="206.47" r="0.95" fill="#e0362e"/>
<rect x="338.59" y="209.4" width="1.7" height="17.59" rx="0.85" fill="#e0362e"/>
<line x1="345.66" y1="219" x2="345.66" y2="223.26" stroke="#3a46b0" stroke-width="0.55"/>
<rect x="343.66" y="223.26" width="4" height="45.04" fill="#fff" stroke="#3a46b0" stroke-width="0.6"/>
<line x1="343.66" y1="268.3" x2="347.66" y2="268.3" stroke="#3a46b0" stroke-width="1.0"/>
<line x1="347.86" y1="268.3" x2="351.86" y2="268.3" stroke="#e0362e" stroke-width="1.0"/>
<circle cx="349.86" cy="206.47" r="0.95" fill="#e0362e"/>
<rect x="349.01" y="209.4" width="1.7" height="17.06" rx="0.85" fill="#e0362e"/>
<line x1="356.08" y1="213.4" x2="356.08" y2="223.26" stroke="#3a46b0" stroke-width="0.55"/>
<rect x="354.08" y="223.26" width="4" height="45.04" fill="#fff" stroke="#3a46b0" stroke-width="0.6"/>
<line x1="354.08" y1="268.3" x2="358.08" y2="268.3" stroke="#3a46b0" stroke-width="1.0"/>
<line x1="360.28" y1="194.75" x2="360.28" y2="218.46" stroke="#e0362e" stroke-width="0.55"/>
<rect x="358.28" y="218.46" width="4" height="49.84" fill="#fff" stroke="#e0362e" stroke-width="0.6"/>
<line x1="358.28" y1="225.13" x2="362.28" y2="225.13" stroke="#e0362e" stroke-width="1.0"/>
<line x1="366.5" y1="215.53" x2="366.5" y2="223.26" stroke="#3a46b0" stroke-width="0.55"/>
<rect x="364.5" y="223.26" width="4" height="45.04" fill="#fff" stroke="#3a46b0" stroke-width="0.6"/>
<line x1="364.5" y1="268.3" x2="368.5" y2="268.3" stroke="#3a46b0" stroke-width="1.0"/>
<line x1="368.7" y1="268.3" x2="372.7" y2="268.3" stroke="#e0362e" stroke-width="1.0"/>
<circle cx="370.7" cy="211.8" r="0.95" fill="#e0362e"/>
<rect x="369.85" y="214.73" width="1.7" height="11.19" rx="0.85" fill="#e0362e"/>
<line x1="374.92" y1="268.3" x2="378.92" y2="268.3" stroke="#3a46b0" stroke-width="1.0"/>
<circle cx="376.92" cy="212.87" r="0.95" fill="#3a46b0"/>
<circle cx="376.92" cy="222.46" r="0.95" fill="#3a46b0"/>
<line x1="379.12" y1="268.3" x2="383.12" y2="268.3" stroke="#e0362e" stroke-width="1.0"/>
<circle cx="381.12" cy="209.14" r="0.95" fill="#e0362e"/>
<rect x="380.27" y="212.07" width="1.7" height="15.46" rx="0.85" fill="#e0362e"/>
<line x1="387.34" y1="212.34" x2="387.34" y2="215.27" stroke="#3a46b0" stroke-width="0.55"/>
<rect x="385.34" y="215.27" width="4" height="53.03" fill="#fff" stroke="#3a46b0" stroke-width="0.6"/>
<line x1="385.34" y1="268.3" x2="389.34" y2="268.3" stroke="#3a46b0" stroke-width="1.0"/>
<line x1="391.54" y1="205.41" x2="391.54" y2="220.86" stroke="#e0362e" stroke-width="0.55"/>
<rect x="389.54" y="220.86" width="4" height="47.44" fill="#fff" stroke="#e0362e" stroke-width="0.6"/>
<line x1="389.54" y1="268.3" x2="393.54" y2="268.3" stroke="#e0362e" stroke-width="1.0"/>
<line x1="395.76" y1="268.3" x2="399.76" y2="268.3" stroke="#3a46b0" stroke-width="1.0"/>
<circle cx="397.76" cy="212.34" r="0.95" fill="#3a46b0"/>
<circle cx="397.76" cy="225.13" r="0.95" fill="#3a46b0"/>
<line x1="401.96" y1="207.54" x2="401.96" y2="224.59" stroke="#e0362e" stroke-width="0.55"/>
<rect x="399.96" y="224.59" width="4" height="43.71" fill="#fff" stroke="#e0362e" stroke-width="0.6"/>
<line x1="399.96" y1="268.3" x2="403.96" y2="268.3" stroke="#e0362e" stroke-width="1.0"/>
<line x1="406.18" y1="268.3" x2="410.18" y2="268.3" stroke="#3a46b0" stroke-width="1.0"/>
<rect x="407.33" y="217.93" width="1.7" height="4.8" rx="0.85" fill="#3a46b0"/>
<line x1="410.38" y1="268.3" x2="414.38" y2="268.3" stroke="#e0362e" stroke-width="1.0"/>
<circle cx="412.38" cy="201.68" r="0.95" fill="#e0362e"/>
<rect x="411.53" y="204.61" width="1.7" height="22.39" rx="0.85" fill="#e0362e"/>
<line x1="416.6" y1="268.3" x2="420.6" y2="268.3" stroke="#3a46b0" stroke-width="1.0"/>
<circle cx="418.6" cy="213.4" r="0.95" fill="#3a46b0"/>
<line x1="422.8" y1="201.14" x2="422.8" y2="215.27" stroke="#e0362e" stroke-width="0.55"/>
<rect x="420.8" y="215.27" width="4" height="53.03" fill="#fff" stroke="#e0362e" stroke-width="0.6"/>
<line x1="420.8" y1="268.3" x2="424.8" y2="268.3" stroke="#e0362e" stroke-width="1.0"/>
<line x1="429.02" y1="208.07" x2="429.02" y2="222.2" stroke="#3a46b0" stroke-width="0.55"/>
<rect x="427.02" y="222.2" width="4" height="46.1" fill="#fff" stroke="#3a46b0" stroke-width="0.6"/>
<line x1="427.02" y1="268.3" x2="431.02" y2="268.3" stroke="#3a46b0" stroke-width="1.0"/>
<line x1="433.22" y1="186.75" x2="433.22" y2="222.73" stroke="#e0362e" stroke-width="0.55"/>
<rect x="431.22" y="222.73" width="4" height="45.57" fill="#fff" stroke="#e0362e" stroke-width="0.6"/>
<line x1="431.22" y1="268.3" x2="435.22" y2="268.3" stroke="#e0362e" stroke-width="1.0"/>
<line x1="437.44" y1="268.3" x2="441.44" y2="268.3" stroke="#3a46b0" stroke-width="1.0"/>
<circle cx="439.44" cy="210.2" r="0.95" fill="#3a46b0"/>
<circle cx="439.44" cy="215.53" r="0.95" fill="#3a46b0"/>
<circle cx="439.44" cy="220.86" r="0.95" fill="#3a46b0"/>
<line x1="441.64" y1="268.3" x2="445.64" y2="268.3" stroke="#e0362e" stroke-width="1.0"/>
<circle cx="443.64" cy="209.67" r="0.95" fill="#e0362e"/>
<rect x="442.79" y="212.6" width="1.7" height="14.39" rx="0.85" fill="#e0362e"/>
<text transform="translate(3.25,326.90) scale(0.2157,0.2907)" font-size="100" font-weight="bold" fill="#000">E</text>
<line x1="28.4" y1="333" x2="28.4" y2="423.3" stroke="#5a5a5a" stroke-width="0.9"/>
<line x1="28.4" y1="423.3" x2="218.3" y2="423.3" stroke="#5a5a5a" stroke-width="0.9"/>
<line x1="27.2" y1="418.8" x2="28.4" y2="418.8" stroke="#333" stroke-width="0.5"/>
<text transform="translate(26.8,421.2) scale(0.85,1)" font-size="5.3" text-anchor="end" fill="#333">0</text>
<line x1="27.2" y1="393.3" x2="28.4" y2="393.3" stroke="#333" stroke-width="0.5"/>
<text transform="translate(26.8,395.7) scale(0.85,1)" font-size="5.3" text-anchor="end" fill="#333">5</text>
<line x1="27.2" y1="367.8" x2="28.4" y2="367.8" stroke="#333" stroke-width="0.5"/>
<text transform="translate(26.8,370.2) scale(0.85,1)" font-size="5.3" text-anchor="end" fill="#333">10</text>
<line x1="27.2" y1="342.3" x2="28.4" y2="342.3" stroke="#333" stroke-width="0.5"/>
<text transform="translate(26.8,344.7) scale(0.85,1)" font-size="5.3" text-anchor="end" fill="#333">15</text>
<text transform="translate(18.9,378.15) rotate(-90)" font-size="3.9" text-anchor="middle" fill="#111">IFNA21 expression</text>
<line x1="34.7" y1="423.3" x2="34.7" y2="424.5" stroke="#333" stroke-width="0.5"/>
<text transform="translate(37.1,426.8) rotate(-60)" font-size="4.1" text-anchor="end" fill="#333">UCEC</text>
<line x1="45.12" y1="423.3" x2="45.12" y2="424.5" stroke="#333" stroke-width="0.5"/>
<text transform="translate(47.52,426.8) rotate(-60)" font-size="4.1" text-anchor="end" fill="#333">THCA</text>
<line x1="55.54" y1="423.3" x2="55.54" y2="424.5" stroke="#333" stroke-width="0.5"/>
<text transform="translate(57.94,426.8) rotate(-60)" font-size="4.1" text-anchor="end" fill="#333">STAD</text>
<line x1="65.96" y1="423.3" x2="65.96" y2="424.5" stroke="#333" stroke-width="0.5"/>
<text transform="translate(68.36,426.8) rotate(-60)" font-size="4.1" text-anchor="end" fill="#333">READ</text>
<line x1="76.38" y1="423.3" x2="76.38" y2="424.5" stroke="#333" stroke-width="0.5"/>
<text transform="translate(78.78,426.8) rotate(-60)" font-size="4.1" text-anchor="end" fill="#333">PRAD</text>
<line x1="86.8" y1="423.3" x2="86.8" y2="424.5" stroke="#333" stroke-width="0.5"/>
<text transform="translate(89.2,426.8) rotate(-60)" font-size="4.1" text-anchor="end" fill="#333">LUSC</text>
<line x1="97.22" y1="423.3" x2="97.22" y2="424.5" stroke="#333" stroke-width="0.5"/>
<text transform="translate(99.62,426.8) rotate(-60)" font-size="4.1" text-anchor="end" fill="#333">LUAD</text>
<line x1="107.64" y1="423.3" x2="107.64" y2="424.5" stroke="#333" stroke-width="0.5"/>
<text transform="translate(110.04,426.8) rotate(-60)" font-size="4.1" text-anchor="end" fill="#333">LIHC</text>
<line x1="118.06" y1="423.3" x2="118.06" y2="424.5" stroke="#333" stroke-width="0.5"/>
<text transform="translate(120.46,426.8) rotate(-60)" font-size="4.1" text-anchor="end" fill="#333">KIRP</text>
<line x1="128.48" y1="423.3" x2="128.48" y2="424.5" stroke="#333" stroke-width="0.5"/>
<text transform="translate(130.88,426.8) rotate(-60)" font-size="4.1" text-anchor="end" fill="#333">KIRC</text>
<line x1="138.9" y1="423.3" x2="138.9" y2="424.5" stroke="#333" stroke-width="0.5"/>
<text transform="translate(141.3,426.8) rotate(-60)" font-size="4.1" text-anchor="end" fill="#333">KICH</text>
<line x1="149.32" y1="423.3" x2="149.32" y2="424.5" stroke="#333" stroke-width="0.5"/>
<text transform="translate(151.72,426.8) rotate(-60)" font-size="4.1" text-anchor="end" fill="#333">HNSC</text>
<line x1="159.74" y1="423.3" x2="159.74" y2="424.5" stroke="#333" stroke-width="0.5"/>
<text transform="translate(162.14,426.8) rotate(-60)" font-size="4.1" text-anchor="end" fill="#333">GBM</text>
<line x1="170.16" y1="423.3" x2="170.16" y2="424.5" stroke="#333" stroke-width="0.5"/>
<text transform="translate(172.56,426.8) rotate(-60)" font-size="4.1" text-anchor="end" fill="#333">ESCA</text>
<line x1="180.58" y1="423.3" x2="180.58" y2="424.5" stroke="#333" stroke-width="0.5"/>
<text transform="translate(182.98,426.8) rotate(-60)" font-size="4.1" text-anchor="end" fill="#333">COAD</text>
<line x1="191" y1="423.3" x2="191" y2="424.5" stroke="#333" stroke-width="0.5"/>
<text transform="translate(193.4,426.8) rotate(-60)" font-size="4.1" text-anchor="end" fill="#333">CHOL</text>
<line x1="201.42" y1="423.3" x2="201.42" y2="424.5" stroke="#333" stroke-width="0.5"/>
<text transform="translate(203.82,426.8) rotate(-60)" font-size="4.1" text-anchor="end" fill="#333">BRCA</text>
<line x1="211.84" y1="423.3" x2="211.84" y2="424.5" stroke="#333" stroke-width="0.5"/>
<text transform="translate(214.24,426.8) rotate(-60)" font-size="4.1" text-anchor="end" fill="#333">BLCA</text>
<text x="124" y="441.9" font-size="3.9" text-anchor="middle" fill="#111">Cancer type</text>
<text x="98" y="325.1" font-size="3.9" fill="#000">Type</text>
<rect x="109.6" y="321.9" width="4.8" height="3.6" fill="#fff" stroke="#3a46b0" stroke-width="0.5" stroke-opacity="0.8"/>
<line x1="109.6" y1="323.7" x2="114.4" y2="323.7" stroke="#3a46b0" stroke-width="0.4" stroke-opacity="0.5"/>
<text x="117.1" y="325" font-size="3.6" fill="#111">Normal</text>
<rect x="131.4" y="321.9" width="4.8" height="3.6" fill="#fff" stroke="#e0362e" stroke-width="0.5" stroke-opacity="0.8"/>
<line x1="131.4" y1="323.7" x2="136.2" y2="323.7" stroke="#e0362e" stroke-width="0.4" stroke-opacity="0.5"/>
<text x="139.6" y="325" font-size="3.6" fill="#111">Tumor</text>
<circle cx="44.4" cy="334.8" r="0.62" fill="#555"/>
<circle cx="45.85" cy="334.8" r="0.62" fill="#555"/>
<circle cx="65.24" cy="334.8" r="0.62" fill="#555"/>
<circle cx="66.69" cy="334.8" r="0.62" fill="#555"/>
<circle cx="86.08" cy="334.8" r="0.62" fill="#555"/>
<circle cx="87.53" cy="334.8" r="0.62" fill="#555"/>
<circle cx="96.5" cy="334.8" r="0.62" fill="#555"/>
<circle cx="97.94" cy="334.8" r="0.62" fill="#555"/>
<circle cx="159.02" cy="334.8" r="0.62" fill="#555"/>
<circle cx="160.47" cy="334.8" r="0.62" fill="#555"/>
<circle cx="179.85" cy="334.8" r="0.62" fill="#555"/>
<circle cx="181.3" cy="334.8" r="0.62" fill="#555"/>
<line x1="30.6" y1="418.8" x2="34.6" y2="418.8" stroke="#3a46b0" stroke-width="1.0"/>
<circle cx="32.6" cy="362.19" r="0.95" fill="#3a46b0"/>
<circle cx="32.6" cy="372.39" r="0.95" fill="#3a46b0"/>
<line x1="34.8" y1="418.8" x2="38.8" y2="418.8" stroke="#e0362e" stroke-width="1.0"/>
<circle cx="36.8" cy="350.46" r="0.95" fill="#e0362e"/>
<rect x="35.95" y="353.23" width="1.7" height="26.08" rx="0.85" fill="#e0362e"/>
<line x1="43.02" y1="363.72" x2="43.02" y2="373.41" stroke="#3a46b0" stroke-width="0.55"/>
<rect x="41.02" y="373.41" width="4" height="45.39" fill="#fff" stroke="#3a46b0" stroke-width="0.6"/>
<line x1="41.02" y1="397.89" x2="45.02" y2="397.89" stroke="#3a46b0" stroke-width="1.0"/>
<line x1="47.22" y1="363.72" x2="47.22" y2="375.96" stroke="#e0362e" stroke-width="0.55"/>
<rect x="45.22" y="375.96" width="4" height="42.84" fill="#fff" stroke="#e0362e" stroke-width="0.6"/>
<line x1="45.22" y1="418.8" x2="49.22" y2="418.8" stroke="#e0362e" stroke-width="1.0"/>
<line x1="53.44" y1="357.6" x2="53.44" y2="374.43" stroke="#3a46b0" stroke-width="0.55"/>
<rect x="51.44" y="374.43" width="4" height="44.37" fill="#fff" stroke="#3a46b0" stroke-width="0.6"/>
<line x1="51.44" y1="418.8" x2="55.44" y2="418.8" stroke="#3a46b0" stroke-width="1.0"/>
<line x1="57.64" y1="342.81" x2="57.64" y2="375.45" stroke="#e0362e" stroke-width="0.55"/>
<rect x="55.64" y="375.45" width="4" height="43.35" fill="#fff" stroke="#e0362e" stroke-width="0.6"/>
<line x1="55.64" y1="418.8" x2="59.64" y2="418.8" stroke="#e0362e" stroke-width="1.0"/>
<line x1="63.86" y1="367.29" x2="63.86" y2="372.39" stroke="#3a46b0" stroke-width="0.55"/>
<rect x="61.86" y="372.39" width="4" height="46.41" fill="#fff" stroke="#3a46b0" stroke-width="0.6"/>
<line x1="61.86" y1="397.38" x2="65.86" y2="397.38" stroke="#3a46b0" stroke-width="1.0"/>
<line x1="66.06" y1="418.8" x2="70.06" y2="418.8" stroke="#e0362e" stroke-width="1.0"/>
<circle cx="68.06" cy="366.78" r="0.95" fill="#e0362e"/>
<rect x="67.21" y="369.55" width="1.7" height="7.21" rx="0.85" fill="#e0362e"/>
<line x1="74.28" y1="367.8" x2="74.28" y2="375.96" stroke="#3a46b0" stroke-width="0.55"/>
<rect x="72.28" y="375.96" width="4" height="42.84" fill="#fff" stroke="#3a46b0" stroke-width="0.6"/>
<line x1="72.28" y1="418.8" x2="76.28" y2="418.8" stroke="#3a46b0" stroke-width="1.0"/>
<line x1="78.48" y1="369.84" x2="78.48" y2="399.42" stroke="#e0362e" stroke-width="0.55"/>
<rect x="76.48" y="399.42" width="4" height="19.38" fill="#fff" stroke="#e0362e" stroke-width="0.6"/>
<line x1="76.48" y1="418.8" x2="80.48" y2="418.8" stroke="#e0362e" stroke-width="1.0"/>
<circle cx="78.48" cy="350.46" r="0.95" fill="#e0362e"/>
<circle cx="78.48" cy="360.66" r="0.95" fill="#e0362e"/>
<rect x="77.63" y="363.43" width="1.7" height="7.21" rx="0.85" fill="#e0362e"/>
<line x1="84.7" y1="364.23" x2="84.7" y2="373.41" stroke="#3a46b0" stroke-width="0.55"/>
<rect x="82.7" y="373.41" width="4" height="45.39" fill="#fff" stroke="#3a46b0" stroke-width="0.6"/>
<line x1="82.7" y1="378.76" x2="86.7" y2="378.76" stroke="#3a46b0" stroke-width="1.0"/>
<line x1="86.9" y1="418.8" x2="90.9" y2="418.8" stroke="#e0362e" stroke-width="1.0"/>
<circle cx="88.9" cy="347.4" r="0.95" fill="#e0362e"/>
<circle cx="88.9" cy="362.19" r="0.95" fill="#e0362e"/>
<rect x="88.05" y="364.96" width="1.7" height="13.33" rx="0.85" fill="#e0362e"/>
<line x1="95.12" y1="363.72" x2="95.12" y2="370.35" stroke="#3a46b0" stroke-width="0.55"/>
<rect x="93.12" y="370.35" width="4" height="48.45" fill="#fff" stroke="#3a46b0" stroke-width="0.6"/>
<line x1="93.12" y1="418.8" x2="97.12" y2="418.8" stroke="#3a46b0" stroke-width="1.0"/>
<line x1="97.32" y1="418.8" x2="101.32" y2="418.8" stroke="#e0362e" stroke-width="1.0"/>
<circle cx="99.32" cy="355.05" r="0.95" fill="#e0362e"/>
<rect x="98.47" y="357.82" width="1.7" height="25.57" rx="0.85" fill="#e0362e"/>
<line x1="103.54" y1="418.8" x2="107.54" y2="418.8" stroke="#3a46b0" stroke-width="1.0"/>
<circle cx="105.54" cy="366.78" r="0.95" fill="#3a46b0"/>
<line x1="107.74" y1="418.8" x2="111.74" y2="418.8" stroke="#e0362e" stroke-width="1.0"/>
<circle cx="109.74" cy="351.99" r="0.95" fill="#e0362e"/>
<circle cx="109.74" cy="362.7" r="0.95" fill="#e0362e"/>
<rect x="108.89" y="365.47" width="1.7" height="10.27" rx="0.85" fill="#e0362e"/>
<line x1="113.96" y1="418.8" x2="117.96" y2="418.8" stroke="#3a46b0" stroke-width="1.0"/>
<rect x="115.11" y="372.61" width="1.7" height="5.17" rx="0.85" fill="#3a46b0"/>
<line x1="118.16" y1="418.8" x2="122.16" y2="418.8" stroke="#e0362e" stroke-width="1.0"/>
<circle cx="120.16" cy="361.17" r="0.95" fill="#e0362e"/>
<rect x="119.31" y="363.94" width="1.7" height="16.39" rx="0.85" fill="#e0362e"/>
<line x1="126.38" y1="370.35" x2="126.38" y2="375.96" stroke="#3a46b0" stroke-width="0.55"/>
<rect x="124.38" y="375.96" width="4" height="42.84" fill="#fff" stroke="#3a46b0" stroke-width="0.6"/>
<line x1="124.38" y1="418.8" x2="128.38" y2="418.8" stroke="#3a46b0" stroke-width="1.0"/>
<line x1="130.58" y1="355.56" x2="130.58" y2="374.43" stroke="#e0362e" stroke-width="0.55"/>
<rect x="128.58" y="374.43" width="4" height="44.37" fill="#fff" stroke="#e0362e" stroke-width="0.6"/>
<line x1="128.58" y1="418.8" x2="132.58" y2="418.8" stroke="#e0362e" stroke-width="1.0"/>
<rect x="134.8" y="375.96" width="4" height="42.84" fill="#fff" stroke="#3a46b0" stroke-width="0.6"/>
<line x1="134.8" y1="418.8" x2="138.8" y2="418.8" stroke="#3a46b0" stroke-width="1.0"/>
<line x1="141" y1="362.7" x2="141" y2="375.45" stroke="#e0362e" stroke-width="0.55"/>
<rect x="139" y="375.45" width="4" height="43.35" fill="#fff" stroke="#e0362e" stroke-width="0.6"/>
<line x1="139" y1="418.8" x2="143" y2="418.8" stroke="#e0362e" stroke-width="1.0"/>
<line x1="145.22" y1="418.8" x2="149.22" y2="418.8" stroke="#3a46b0" stroke-width="1.0"/>
<rect x="146.37" y="362.92" width="1.7" height="3.64" rx="0.85" fill="#3a46b0"/>
<rect x="146.37" y="372.1" width="1.7" height="4.15" rx="0.85" fill="#3a46b0"/>
<line x1="149.42" y1="418.8" x2="153.42" y2="418.8" stroke="#e0362e" stroke-width="1.0"/>
<circle cx="151.42" cy="358.11" r="0.95" fill="#e0362e"/>
<rect x="150.57" y="360.88" width="1.7" height="19.45" rx="0.85" fill="#e0362e"/>
<line x1="157.64" y1="372.39" x2="157.64" y2="366.27" stroke="#3a46b0" stroke-width="0.55"/>
<rect x="155.64" y="357.6" width="4" height="8.67" fill="#fff" stroke="#3a46b0" stroke-width="0.6"/>
<line x1="155.64" y1="361.17" x2="159.64" y2="361.17" stroke="#3a46b0" stroke-width="1.0"/>
<line x1="161.84" y1="366.27" x2="161.84" y2="374.43" stroke="#e0362e" stroke-width="0.55"/>
<rect x="159.84" y="374.43" width="4" height="44.37" fill="#fff" stroke="#e0362e" stroke-width="0.6"/>
<line x1="159.84" y1="418.8" x2="163.84" y2="418.8" stroke="#e0362e" stroke-width="1.0"/>
<line x1="168.06" y1="361.68" x2="168.06" y2="394.32" stroke="#3a46b0" stroke-width="0.55"/>
<rect x="166.06" y="394.32" width="4" height="24.48" fill="#fff" stroke="#3a46b0" stroke-width="0.6"/>
<line x1="166.06" y1="418.8" x2="170.06" y2="418.8" stroke="#3a46b0" stroke-width="1.0"/>
<line x1="172.26" y1="348.42" x2="172.26" y2="376.98" stroke="#e0362e" stroke-width="0.55"/>
<rect x="170.26" y="376.98" width="4" height="41.82" fill="#fff" stroke="#e0362e" stroke-width="0.6"/>
<line x1="170.26" y1="418.8" x2="174.26" y2="418.8" stroke="#e0362e" stroke-width="1.0"/>
<line x1="178.48" y1="368.82" x2="178.48" y2="372.9" stroke="#3a46b0" stroke-width="0.55"/>
<rect x="176.48" y="372.9" width="4" height="45.9" fill="#fff" stroke="#3a46b0" stroke-width="0.6"/>
<line x1="176.48" y1="418.8" x2="180.48" y2="418.8" stroke="#3a46b0" stroke-width="1.0"/>
<line x1="180.68" y1="418.8" x2="184.68" y2="418.8" stroke="#e0362e" stroke-width="1.0"/>
<circle cx="182.68" cy="353.52" r="0.95" fill="#e0362e"/>
<rect x="181.83" y="356.29" width="1.7" height="22.51" rx="0.85" fill="#e0362e"/>
<line x1="186.9" y1="418.8" x2="190.9" y2="418.8" stroke="#3a46b0" stroke-width="1.0"/>
<line x1="191.1" y1="418.8" x2="195.1" y2="418.8" stroke="#e0362e" stroke-width="1.0"/>
<circle cx="193.1" cy="362.7" r="0.95" fill="#e0362e"/>
<rect x="192.25" y="369.04" width="1.7" height="6.7" rx="0.85" fill="#e0362e"/>
<line x1="199.32" y1="366.27" x2="199.32" y2="375.96" stroke="#3a46b0" stroke-width="0.55"/>
<rect x="197.32" y="375.96" width="4" height="42.84" fill="#fff" stroke="#3a46b0" stroke-width="0.6"/>
<line x1="197.32" y1="418.8" x2="201.32" y2="418.8" stroke="#3a46b0" stroke-width="1.0"/>
<line x1="203.52" y1="337.71" x2="203.52" y2="376.98" stroke="#e0362e" stroke-width="0.55"/>
<rect x="201.52" y="376.98" width="4" height="41.82" fill="#fff" stroke="#e0362e" stroke-width="0.6"/>
<line x1="201.52" y1="418.8" x2="205.52" y2="418.8" stroke="#e0362e" stroke-width="1.0"/>
<line x1="207.74" y1="418.8" x2="211.74" y2="418.8" stroke="#3a46b0" stroke-width="1.0"/>
<rect x="208.89" y="369.04" width="1.7" height="4.15" rx="0.85" fill="#3a46b0"/>
<line x1="211.94" y1="418.8" x2="215.94" y2="418.8" stroke="#e0362e" stroke-width="1.0"/>
<circle cx="213.94" cy="363.21" r="0.95" fill="#e0362e"/>
<rect x="213.09" y="365.98" width="1.7" height="13.33" rx="0.85" fill="#e0362e"/>
<text transform="translate(230.54,327.70) scale(0.2327,0.2907)" font-size="100" font-weight="bold" fill="#000">F</text>
<line x1="258.1" y1="333" x2="258.1" y2="423.3" stroke="#5a5a5a" stroke-width="0.9"/>
<line x1="258.1" y1="423.3" x2="448" y2="423.3" stroke="#5a5a5a" stroke-width="0.9"/>
<line x1="256.9" y1="418.6" x2="258.1" y2="418.6" stroke="#333" stroke-width="0.5"/>
<text transform="translate(256.5,421) scale(0.85,1)" font-size="5.3" text-anchor="end" fill="#333">0</text>
<line x1="256.9" y1="397.35" x2="258.1" y2="397.35" stroke="#333" stroke-width="0.5"/>
<text transform="translate(256.5,399.75) scale(0.85,1)" font-size="5.3" text-anchor="end" fill="#333">5</text>
<line x1="256.9" y1="376.1" x2="258.1" y2="376.1" stroke="#333" stroke-width="0.5"/>
<text transform="translate(256.5,378.5) scale(0.85,1)" font-size="5.3" text-anchor="end" fill="#333">10</text>
<line x1="256.9" y1="354.85" x2="258.1" y2="354.85" stroke="#333" stroke-width="0.5"/>
<text transform="translate(256.5,357.25) scale(0.85,1)" font-size="5.3" text-anchor="end" fill="#333">15</text>
<line x1="256.9" y1="333.6" x2="258.1" y2="333.6" stroke="#333" stroke-width="0.5"/>
<text transform="translate(256.5,336) scale(0.85,1)" font-size="5.3" text-anchor="end" fill="#333">20</text>
<text transform="translate(248.6,378.15) rotate(-90)" font-size="3.9" text-anchor="middle" fill="#111">IFNG expression</text>
<line x1="264.4" y1="423.3" x2="264.4" y2="424.5" stroke="#333" stroke-width="0.5"/>
<text transform="translate(266.8,426.8) rotate(-60)" font-size="4.1" text-anchor="end" fill="#333">UCEC</text>
<line x1="274.82" y1="423.3" x2="274.82" y2="424.5" stroke="#333" stroke-width="0.5"/>
<text transform="translate(277.22,426.8) rotate(-60)" font-size="4.1" text-anchor="end" fill="#333">THCA</text>
<line x1="285.24" y1="423.3" x2="285.24" y2="424.5" stroke="#333" stroke-width="0.5"/>
<text transform="translate(287.64,426.8) rotate(-60)" font-size="4.1" text-anchor="end" fill="#333">STAD</text>
<line x1="295.66" y1="423.3" x2="295.66" y2="424.5" stroke="#333" stroke-width="0.5"/>
<text transform="translate(298.06,426.8) rotate(-60)" font-size="4.1" text-anchor="end" fill="#333">READ</text>
<line x1="306.08" y1="423.3" x2="306.08" y2="424.5" stroke="#333" stroke-width="0.5"/>
<text transform="translate(308.48,426.8) rotate(-60)" font-size="4.1" text-anchor="end" fill="#333">PRAD</text>
<line x1="316.5" y1="423.3" x2="316.5" y2="424.5" stroke="#333" stroke-width="0.5"/>
<text transform="translate(318.9,426.8) rotate(-60)" font-size="4.1" text-anchor="end" fill="#333">LUSC</text>
<line x1="326.92" y1="423.3" x2="326.92" y2="424.5" stroke="#333" stroke-width="0.5"/>
<text transform="translate(329.32,426.8) rotate(-60)" font-size="4.1" text-anchor="end" fill="#333">LUAD</text>
<line x1="337.34" y1="423.3" x2="337.34" y2="424.5" stroke="#333" stroke-width="0.5"/>
<text transform="translate(339.74,426.8) rotate(-60)" font-size="4.1" text-anchor="end" fill="#333">LIHC</text>
<line x1="347.76" y1="423.3" x2="347.76" y2="424.5" stroke="#333" stroke-width="0.5"/>
<text transform="translate(350.16,426.8) rotate(-60)" font-size="4.1" text-anchor="end" fill="#333">KIRP</text>
<line x1="358.18" y1="423.3" x2="358.18" y2="424.5" stroke="#333" stroke-width="0.5"/>
<text transform="translate(360.58,426.8) rotate(-60)" font-size="4.1" text-anchor="end" fill="#333">KIRC</text>
<line x1="368.6" y1="423.3" x2="368.6" y2="424.5" stroke="#333" stroke-width="0.5"/>
<text transform="translate(371,426.8) rotate(-60)" font-size="4.1" text-anchor="end" fill="#333">KICH</text>
<line x1="379.02" y1="423.3" x2="379.02" y2="424.5" stroke="#333" stroke-width="0.5"/>
<text transform="translate(381.42,426.8) rotate(-60)" font-size="4.1" text-anchor="end" fill="#333">HNSC</text>
<line x1="389.44" y1="423.3" x2="389.44" y2="424.5" stroke="#333" stroke-width="0.5"/>
<text transform="translate(391.84,426.8) rotate(-60)" font-size="4.1" text-anchor="end" fill="#333">GBM</text>
<line x1="399.86" y1="423.3" x2="399.86" y2="424.5" stroke="#333" stroke-width="0.5"/>
<text transform="translate(402.26,426.8) rotate(-60)" font-size="4.1" text-anchor="end" fill="#333">ESCA</text>
<line x1="410.28" y1="423.3" x2="410.28" y2="424.5" stroke="#333" stroke-width="0.5"/>
<text transform="translate(412.68,426.8) rotate(-60)" font-size="4.1" text-anchor="end" fill="#333">COAD</text>
<line x1="420.7" y1="423.3" x2="420.7" y2="424.5" stroke="#333" stroke-width="0.5"/>
<text transform="translate(423.1,426.8) rotate(-60)" font-size="4.1" text-anchor="end" fill="#333">CHOL</text>
<line x1="431.12" y1="423.3" x2="431.12" y2="424.5" stroke="#333" stroke-width="0.5"/>
<text transform="translate(433.52,426.8) rotate(-60)" font-size="4.1" text-anchor="end" fill="#333">BRCA</text>
<line x1="441.54" y1="423.3" x2="441.54" y2="424.5" stroke="#333" stroke-width="0.5"/>
<text transform="translate(443.94,426.8) rotate(-60)" font-size="4.1" text-anchor="end" fill="#333">BLCA</text>
<text x="353.7" y="441.9" font-size="3.9" text-anchor="middle" fill="#111">Cancer type</text>
<text x="327.7" y="325.1" font-size="3.9" fill="#000">Type</text>
<rect x="339.3" y="321.9" width="4.8" height="3.6" fill="#fff" stroke="#3a46b0" stroke-width="0.5" stroke-opacity="0.8"/>
<line x1="339.3" y1="323.7" x2="344.1" y2="323.7" stroke="#3a46b0" stroke-width="0.4" stroke-opacity="0.5"/>
<text x="346.8" y="325" font-size="3.6" fill="#111">Normal</text>
<rect x="361.1" y="321.9" width="4.8" height="3.6" fill="#fff" stroke="#e0362e" stroke-width="0.5" stroke-opacity="0.8"/>
<line x1="361.1" y1="323.7" x2="365.9" y2="323.7" stroke="#e0362e" stroke-width="0.4" stroke-opacity="0.5"/>
<text x="369.3" y="325" font-size="3.6" fill="#111">Tumor</text>
<circle cx="262.95" cy="334.8" r="0.62" fill="#555"/>
<circle cx="264.4" cy="334.8" r="0.62" fill="#555"/>
<circle cx="265.85" cy="334.8" r="0.62" fill="#555"/>
<circle cx="273.37" cy="334.8" r="0.62" fill="#555"/>
<circle cx="274.82" cy="334.8" r="0.62" fill="#555"/>
<circle cx="276.27" cy="334.8" r="0.62" fill="#555"/>
<circle cx="283.79" cy="334.8" r="0.62" fill="#555"/>
<circle cx="285.24" cy="334.8" r="0.62" fill="#555"/>
<circle cx="286.69" cy="334.8" r="0.62" fill="#555"/>
<circle cx="295.66" cy="334.8" r="0.62" fill="#555"/>
<circle cx="326.92" cy="334.8" r="0.62" fill="#555"/>
<circle cx="336.61" cy="334.8" r="0.62" fill="#555"/>
<circle cx="338.06" cy="334.8" r="0.62" fill="#555"/>
<circle cx="356.73" cy="334.8" r="0.62" fill="#555"/>
<circle cx="358.18" cy="334.8" r="0.62" fill="#555"/>
<circle cx="359.63" cy="334.8" r="0.62" fill="#555"/>
<circle cx="377.57" cy="334.8" r="0.62" fill="#555"/>
<circle cx="379.02" cy="334.8" r="0.62" fill="#555"/>
<circle cx="380.47" cy="334.8" r="0.62" fill="#555"/>
<circle cx="399.86" cy="334.8" r="0.62" fill="#555"/>
<circle cx="409.55" cy="334.8" r="0.62" fill="#555"/>
<circle cx="411" cy="334.8" r="0.62" fill="#555"/>
<line x1="262.3" y1="360.8" x2="262.3" y2="372.28" stroke="#3a46b0" stroke-width="0.55"/>
<line x1="262.3" y1="383.33" x2="262.3" y2="382.48" stroke="#3a46b0" stroke-width="0.55"/>
<rect x="260.3" y="372.28" width="4" height="10.2" fill="#fff" stroke="#3a46b0" stroke-width="0.6"/>
<line x1="260.3" y1="375.25" x2="264.3" y2="375.25" stroke="#3a46b0" stroke-width="1.0"/>
<circle cx="262.3" cy="418.6" r="0.8" fill="#3a46b0"/>
<line x1="266.5" y1="339.12" x2="266.5" y2="360.8" stroke="#e0362e" stroke-width="0.55"/>
<line x1="266.5" y1="382.48" x2="266.5" y2="376.95" stroke="#e0362e" stroke-width="0.55"/>
<rect x="264.5" y="360.8" width="4" height="16.15" fill="#fff" stroke="#e0362e" stroke-width="0.6"/>
<line x1="264.5" y1="369.3" x2="268.5" y2="369.3" stroke="#e0362e" stroke-width="1.0"/>
<circle cx="266.5" cy="336.58" r="0.95" fill="#e0362e"/>
<circle cx="266.5" cy="418.6" r="0.8" fill="#e0362e"/>
<line x1="272.72" y1="349.33" x2="272.72" y2="360.38" stroke="#3a46b0" stroke-width="0.55"/>
<line x1="272.72" y1="385.88" x2="272.72" y2="373.98" stroke="#3a46b0" stroke-width="0.55"/>
<rect x="270.72" y="360.38" width="4" height="13.6" fill="#fff" stroke="#3a46b0" stroke-width="0.6"/>
<line x1="270.72" y1="366.75" x2="274.72" y2="366.75" stroke="#3a46b0" stroke-width="1.0"/>
<circle cx="272.72" cy="418.6" r="0.8" fill="#3a46b0"/>
<line x1="276.92" y1="346.78" x2="276.92" y2="365.9" stroke="#e0362e" stroke-width="0.55"/>
<line x1="276.92" y1="385.88" x2="276.92" y2="380.35" stroke="#e0362e" stroke-width="0.55"/>
<rect x="274.92" y="365.9" width="4" height="14.45" fill="#fff" stroke="#e0362e" stroke-width="0.6"/>
<line x1="274.92" y1="373.12" x2="278.92" y2="373.12" stroke="#e0362e" stroke-width="1.0"/>
<circle cx="276.92" cy="418.6" r="0.8" fill="#e0362e"/>
<line x1="283.14" y1="351.45" x2="283.14" y2="366.75" stroke="#3a46b0" stroke-width="0.55"/>
<line x1="283.14" y1="384.6" x2="283.14" y2="381.62" stroke="#3a46b0" stroke-width="0.55"/>
<rect x="281.14" y="366.75" width="4" height="14.88" fill="#fff" stroke="#3a46b0" stroke-width="0.6"/>
<line x1="281.14" y1="374.4" x2="285.14" y2="374.4" stroke="#3a46b0" stroke-width="1.0"/>
<circle cx="283.14" cy="418.6" r="0.8" fill="#3a46b0"/>
<line x1="287.34" y1="339.12" x2="287.34" y2="357.4" stroke="#e0362e" stroke-width="0.55"/>
<line x1="287.34" y1="382.48" x2="287.34" y2="370.15" stroke="#e0362e" stroke-width="0.55"/>
<rect x="285.34" y="357.4" width="4" height="12.75" fill="#fff" stroke="#e0362e" stroke-width="0.6"/>
<line x1="285.34" y1="363.78" x2="289.34" y2="363.78" stroke="#e0362e" stroke-width="1.0"/>
<circle cx="287.34" cy="337.85" r="0.95" fill="#e0362e"/>
<circle cx="287.34" cy="418.6" r="0.8" fill="#e0362e"/>
<line x1="293.56" y1="372.7" x2="293.56" y2="373.98" stroke="#3a46b0" stroke-width="0.55"/>
<line x1="293.56" y1="379.5" x2="293.56" y2="378.65" stroke="#3a46b0" stroke-width="0.55"/>
<rect x="291.56" y="373.98" width="4" height="4.68" fill="#fff" stroke="#3a46b0" stroke-width="0.6"/>
<line x1="291.56" y1="374.83" x2="295.56" y2="374.83" stroke="#3a46b0" stroke-width="1.0"/>
<circle cx="293.56" cy="366.33" r="0.95" fill="#3a46b0"/>
<circle cx="293.56" cy="418.6" r="0.8" fill="#3a46b0"/>
<line x1="297.76" y1="352.3" x2="297.76" y2="364.2" stroke="#e0362e" stroke-width="0.55"/>
<line x1="297.76" y1="382.9" x2="297.76" y2="376.1" stroke="#e0362e" stroke-width="0.55"/>
<rect x="295.76" y="364.2" width="4" height="11.9" fill="#fff" stroke="#e0362e" stroke-width="0.6"/>
<line x1="295.76" y1="369.3" x2="299.76" y2="369.3" stroke="#e0362e" stroke-width="1.0"/>
<circle cx="297.76" cy="418.6" r="0.8" fill="#e0362e"/>
<line x1="303.98" y1="359.95" x2="303.98" y2="368.88" stroke="#3a46b0" stroke-width="0.55"/>
<line x1="303.98" y1="382.9" x2="303.98" y2="381.2" stroke="#3a46b0" stroke-width="0.55"/>
<rect x="301.98" y="368.88" width="4" height="12.33" fill="#fff" stroke="#3a46b0" stroke-width="0.6"/>
<line x1="301.98" y1="374.83" x2="305.98" y2="374.83" stroke="#3a46b0" stroke-width="1.0"/>
<circle cx="303.98" cy="418.6" r="0.8" fill="#3a46b0"/>
<line x1="308.18" y1="355.28" x2="308.18" y2="369.3" stroke="#e0362e" stroke-width="0.55"/>
<line x1="308.18" y1="385.88" x2="308.18" y2="381.2" stroke="#e0362e" stroke-width="0.55"/>
<rect x="306.18" y="369.3" width="4" height="11.9" fill="#fff" stroke="#e0362e" stroke-width="0.6"/>
<line x1="306.18" y1="374.83" x2="310.18" y2="374.83" stroke="#e0362e" stroke-width="1.0"/>
<circle cx="308.18" cy="351.45" r="0.95" fill="#e0362e"/>
<circle cx="308.18" cy="418.6" r="0.8" fill="#e0362e"/>
<line x1="314.4" y1="348.9" x2="314.4" y2="360.8" stroke="#3a46b0" stroke-width="0.55"/>
<line x1="314.4" y1="371.43" x2="314.4" y2="368.45" stroke="#3a46b0" stroke-width="0.55"/>
<rect x="312.4" y="360.8" width="4" height="7.65" fill="#fff" stroke="#3a46b0" stroke-width="0.6"/>
<line x1="312.4" y1="363.35" x2="316.4" y2="363.35" stroke="#3a46b0" stroke-width="1.0"/>
<circle cx="314.4" cy="418.6" r="0.8" fill="#3a46b0"/>
<line x1="318.6" y1="343.8" x2="318.6" y2="358.25" stroke="#e0362e" stroke-width="0.55"/>
<line x1="318.6" y1="385.03" x2="318.6" y2="370.15" stroke="#e0362e" stroke-width="0.55"/>
<rect x="316.6" y="358.25" width="4" height="11.9" fill="#fff" stroke="#e0362e" stroke-width="0.6"/>
<line x1="316.6" y1="363.78" x2="320.6" y2="363.78" stroke="#e0362e" stroke-width="1.0"/>
<circle cx="318.6" cy="339.12" r="0.95" fill="#e0362e"/>
<circle cx="318.6" cy="418.6" r="0.8" fill="#e0362e"/>
<line x1="324.82" y1="353.58" x2="324.82" y2="360.8" stroke="#3a46b0" stroke-width="0.55"/>
<line x1="324.82" y1="380.35" x2="324.82" y2="371.43" stroke="#3a46b0" stroke-width="0.55"/>
<rect x="322.82" y="360.8" width="4" height="10.62" fill="#fff" stroke="#3a46b0" stroke-width="0.6"/>
<line x1="322.82" y1="365.05" x2="326.82" y2="365.05" stroke="#3a46b0" stroke-width="1.0"/>
<circle cx="324.82" cy="418.6" r="0.8" fill="#3a46b0"/>
<line x1="329.02" y1="343.8" x2="329.02" y2="357.4" stroke="#e0362e" stroke-width="0.55"/>
<line x1="329.02" y1="384.6" x2="329.02" y2="368.88" stroke="#e0362e" stroke-width="0.55"/>
<rect x="327.02" y="357.4" width="4" height="11.47" fill="#fff" stroke="#e0362e" stroke-width="0.6"/>
<line x1="327.02" y1="362.93" x2="331.02" y2="362.93" stroke="#e0362e" stroke-width="1.0"/>
<circle cx="329.02" cy="418.6" r="0.8" fill="#e0362e"/>
<line x1="335.24" y1="355.28" x2="335.24" y2="362.93" stroke="#3a46b0" stroke-width="0.55"/>
<line x1="335.24" y1="376.95" x2="335.24" y2="370.58" stroke="#3a46b0" stroke-width="0.55"/>
<rect x="333.24" y="362.93" width="4" height="7.65" fill="#fff" stroke="#3a46b0" stroke-width="0.6"/>
<line x1="333.24" y1="366.75" x2="337.24" y2="366.75" stroke="#3a46b0" stroke-width="1.0"/>
<circle cx="335.24" cy="418.6" r="0.8" fill="#3a46b0"/>
<line x1="339.44" y1="348.48" x2="339.44" y2="366.75" stroke="#e0362e" stroke-width="0.55"/>
<line x1="339.44" y1="382.48" x2="339.44" y2="378.23" stroke="#e0362e" stroke-width="0.55"/>
<rect x="337.44" y="366.75" width="4" height="11.48" fill="#fff" stroke="#e0362e" stroke-width="0.6"/>
<line x1="337.44" y1="372.28" x2="341.44" y2="372.28" stroke="#e0362e" stroke-width="1.0"/>
<circle cx="339.44" cy="345.93" r="0.95" fill="#e0362e"/>
<circle cx="339.44" cy="418.6" r="0.8" fill="#e0362e"/>
<line x1="345.66" y1="369.3" x2="345.66" y2="377.38" stroke="#3a46b0" stroke-width="0.55"/>
<rect x="343.66" y="377.38" width="4" height="41.23" fill="#fff" stroke="#3a46b0" stroke-width="0.6"/>
<line x1="343.66" y1="379.5" x2="347.66" y2="379.5" stroke="#3a46b0" stroke-width="1.0"/>
<line x1="349.86" y1="342.95" x2="349.86" y2="373.12" stroke="#e0362e" stroke-width="0.55"/>
<rect x="347.86" y="373.12" width="4" height="45.48" fill="#fff" stroke="#e0362e" stroke-width="0.6"/>
<line x1="347.86" y1="378.23" x2="351.86" y2="378.23" stroke="#e0362e" stroke-width="1.0"/>
<line x1="356.08" y1="364.2" x2="356.08" y2="376.1" stroke="#3a46b0" stroke-width="0.55"/>
<line x1="356.08" y1="418.6" x2="356.08" y2="393.95" stroke="#3a46b0" stroke-width="0.55"/>
<rect x="354.08" y="376.1" width="4" height="17.85" fill="#fff" stroke="#3a46b0" stroke-width="0.6"/>
<line x1="354.08" y1="379.08" x2="358.08" y2="379.08" stroke="#3a46b0" stroke-width="1.0"/>
<line x1="360.28" y1="343.8" x2="360.28" y2="358.25" stroke="#e0362e" stroke-width="0.55"/>
<line x1="360.28" y1="379.08" x2="360.28" y2="370.58" stroke="#e0362e" stroke-width="0.55"/>
<rect x="358.28" y="358.25" width="4" height="12.33" fill="#fff" stroke="#e0362e" stroke-width="0.6"/>
<line x1="358.28" y1="364.62" x2="362.28" y2="364.62" stroke="#e0362e" stroke-width="1.0"/>
<circle cx="360.28" cy="338.7" r="0.95" fill="#e0362e"/>
<circle cx="360.28" cy="418.6" r="0.8" fill="#e0362e"/>
<line x1="366.5" y1="371.43" x2="366.5" y2="375.25" stroke="#3a46b0" stroke-width="0.55"/>
<rect x="364.5" y="375.25" width="4" height="9.35" fill="#fff" stroke="#3a46b0" stroke-width="0.6"/>
<line x1="364.5" y1="378.65" x2="368.5" y2="378.65" stroke="#3a46b0" stroke-width="1.0"/>
<circle cx="366.5" cy="418.6" r="0.8" fill="#3a46b0"/>
<line x1="370.7" y1="365.9" x2="370.7" y2="375.25" stroke="#e0362e" stroke-width="0.55"/>
<rect x="368.7" y="375.25" width="4" height="43.35" fill="#fff" stroke="#e0362e" stroke-width="0.6"/>
<line x1="368.7" y1="381.62" x2="372.7" y2="381.62" stroke="#e0362e" stroke-width="1.0"/>
<line x1="376.92" y1="352.3" x2="376.92" y2="365.05" stroke="#3a46b0" stroke-width="0.55"/>
<line x1="376.92" y1="382.05" x2="376.92" y2="381.2" stroke="#3a46b0" stroke-width="0.55"/>
<rect x="374.92" y="365.05" width="4" height="16.15" fill="#fff" stroke="#3a46b0" stroke-width="0.6"/>
<line x1="374.92" y1="373.12" x2="378.92" y2="373.12" stroke="#3a46b0" stroke-width="1.0"/>
<circle cx="376.92" cy="418.6" r="0.8" fill="#3a46b0"/>
<line x1="381.12" y1="342.95" x2="381.12" y2="357.83" stroke="#e0362e" stroke-width="0.55"/>
<line x1="381.12" y1="384.6" x2="381.12" y2="371.43" stroke="#e0362e" stroke-width="0.55"/>
<rect x="379.12" y="357.83" width="4" height="13.6" fill="#fff" stroke="#e0362e" stroke-width="0.6"/>
<line x1="379.12" y1="364.2" x2="383.12" y2="364.2" stroke="#e0362e" stroke-width="1.0"/>
<circle cx="381.12" cy="418.6" r="0.8" fill="#e0362e"/>
<rect x="385.34" y="382.05" width="4" height="36.55" fill="#fff" stroke="#3a46b0" stroke-width="0.6"/>
<line x1="385.34" y1="382.48" x2="389.34" y2="382.48" stroke="#3a46b0" stroke-width="1.0"/>
<line x1="391.54" y1="337.43" x2="391.54" y2="376.1" stroke="#e0362e" stroke-width="0.55"/>
<rect x="389.54" y="376.1" width="4" height="42.5" fill="#fff" stroke="#e0362e" stroke-width="0.6"/>
<line x1="389.54" y1="382.48" x2="393.54" y2="382.48" stroke="#e0362e" stroke-width="1.0"/>
<line x1="397.76" y1="355.28" x2="397.76" y2="368.88" stroke="#3a46b0" stroke-width="0.55"/>
<line x1="397.76" y1="418.6" x2="397.76" y2="400.33" stroke="#3a46b0" stroke-width="0.55"/>
<rect x="395.76" y="368.88" width="4" height="31.45" fill="#fff" stroke="#3a46b0" stroke-width="0.6"/>
<line x1="395.76" y1="372.7" x2="399.76" y2="372.7" stroke="#3a46b0" stroke-width="1.0"/>
<line x1="401.96" y1="348.9" x2="401.96" y2="362.08" stroke="#e0362e" stroke-width="0.55"/>
<line x1="401.96" y1="385.88" x2="401.96" y2="374.4" stroke="#e0362e" stroke-width="0.55"/>
<rect x="399.96" y="362.08" width="4" height="12.32" fill="#fff" stroke="#e0362e" stroke-width="0.6"/>
<line x1="399.96" y1="367.6" x2="403.96" y2="367.6" stroke="#e0362e" stroke-width="1.0"/>
<circle cx="401.96" cy="418.6" r="0.8" fill="#e0362e"/>
<line x1="408.18" y1="354.43" x2="408.18" y2="368.03" stroke="#3a46b0" stroke-width="0.55"/>
<line x1="408.18" y1="382.48" x2="408.18" y2="376.53" stroke="#3a46b0" stroke-width="0.55"/>
<rect x="406.18" y="368.03" width="4" height="8.5" fill="#fff" stroke="#3a46b0" stroke-width="0.6"/>
<line x1="406.18" y1="372.7" x2="410.18" y2="372.7" stroke="#3a46b0" stroke-width="1.0"/>
<circle cx="408.18" cy="418.6" r="0.8" fill="#3a46b0"/>
<line x1="412.38" y1="347.62" x2="412.38" y2="362.5" stroke="#e0362e" stroke-width="0.55"/>
<line x1="412.38" y1="384.6" x2="412.38" y2="374.4" stroke="#e0362e" stroke-width="0.55"/>
<rect x="410.38" y="362.5" width="4" height="11.9" fill="#fff" stroke="#e0362e" stroke-width="0.6"/>
<line x1="410.38" y1="368.45" x2="414.38" y2="368.45" stroke="#e0362e" stroke-width="1.0"/>
<circle cx="412.38" cy="418.6" r="0.8" fill="#e0362e"/>
<line x1="418.6" y1="357.4" x2="418.6" y2="366.33" stroke="#3a46b0" stroke-width="0.55"/>
<line x1="418.6" y1="373.12" x2="418.6" y2="371.43" stroke="#3a46b0" stroke-width="0.55"/>
<rect x="416.6" y="366.33" width="4" height="5.1" fill="#fff" stroke="#3a46b0" stroke-width="0.6"/>
<line x1="416.6" y1="368.88" x2="420.6" y2="368.88" stroke="#3a46b0" stroke-width="1.0"/>
<circle cx="418.6" cy="418.6" r="0.8" fill="#3a46b0"/>
<line x1="422.8" y1="360.8" x2="422.8" y2="366.33" stroke="#e0362e" stroke-width="0.55"/>
<line x1="422.8" y1="383.33" x2="422.8" y2="381.2" stroke="#e0362e" stroke-width="0.55"/>
<rect x="420.8" y="366.33" width="4" height="14.88" fill="#fff" stroke="#e0362e" stroke-width="0.6"/>
<line x1="420.8" y1="372.7" x2="424.8" y2="372.7" stroke="#e0362e" stroke-width="1.0"/>
<circle cx="422.8" cy="418.6" r="0.8" fill="#e0362e"/>
<line x1="429.02" y1="360.38" x2="429.02" y2="369.3" stroke="#3a46b0" stroke-width="0.55"/>
<line x1="429.02" y1="384.6" x2="429.02" y2="376.53" stroke="#3a46b0" stroke-width="0.55"/>
<rect x="427.02" y="369.3" width="4" height="7.23" fill="#fff" stroke="#3a46b0" stroke-width="0.6"/>
<line x1="427.02" y1="372.7" x2="431.02" y2="372.7" stroke="#3a46b0" stroke-width="1.0"/>
<circle cx="429.02" cy="418.6" r="0.8" fill="#3a46b0"/>
<line x1="433.22" y1="342.95" x2="433.22" y2="364.2" stroke="#e0362e" stroke-width="0.55"/>
<line x1="433.22" y1="386.73" x2="433.22" y2="378.23" stroke="#e0362e" stroke-width="0.55"/>
<rect x="431.22" y="364.2" width="4" height="14.02" fill="#fff" stroke="#e0362e" stroke-width="0.6"/>
<line x1="431.22" y1="371" x2="435.22" y2="371" stroke="#e0362e" stroke-width="1.0"/>
<circle cx="433.22" cy="341.25" r="0.95" fill="#e0362e"/>
<circle cx="433.22" cy="339.98" r="0.95" fill="#e0362e"/>
<circle cx="433.22" cy="418.6" r="0.8" fill="#e0362e"/>
<line x1="439.44" y1="353.15" x2="439.44" y2="366.75" stroke="#3a46b0" stroke-width="0.55"/>
<line x1="439.44" y1="380.78" x2="439.44" y2="379.08" stroke="#3a46b0" stroke-width="0.55"/>
<rect x="437.44" y="366.75" width="4" height="12.33" fill="#fff" stroke="#3a46b0" stroke-width="0.6"/>
<line x1="437.44" y1="371" x2="441.44" y2="371" stroke="#3a46b0" stroke-width="1.0"/>
<circle cx="439.44" cy="418.6" r="0.8" fill="#3a46b0"/>
<line x1="443.64" y1="338.7" x2="443.64" y2="360.38" stroke="#e0362e" stroke-width="0.55"/>
<line x1="443.64" y1="385.88" x2="443.64" y2="379.5" stroke="#e0362e" stroke-width="0.55"/>
<rect x="441.64" y="360.38" width="4" height="19.12" fill="#fff" stroke="#e0362e" stroke-width="0.6"/>
<line x1="441.64" y1="370.15" x2="445.64" y2="370.15" stroke="#e0362e" stroke-width="1.0"/>
<circle cx="443.64" cy="418.6" r="0.8" fill="#e0362e"/>
<text transform="translate(451.63,22.30) scale(0.2607,0.2952)" font-size="100" font-weight="bold" fill="#000">G</text>
<rect x="498.2" y="64.1" width="10.76" height="11.42" fill="#5a1515"/>
<rect x="508.96" y="64.1" width="10.76" height="11.42" fill="#101828"/>
<rect x="519.72" y="64.1" width="10.76" height="11.42" fill="#3d1212"/>
<rect x="530.48" y="64.1" width="10.76" height="11.42" fill="#4a1414"/>
<rect x="541.24" y="64.1" width="10.76" height="11.42" fill="#4060c0"/>
<rect x="552" y="64.1" width="10.76" height="11.42" fill="#35357a"/>
<rect x="562.76" y="64.1" width="10.76" height="11.42" fill="#4862c8"/>
<rect x="573.52" y="64.1" width="10.76" height="11.42" fill="#4a6ac8"/>
<rect x="584.28" y="64.1" width="10.76" height="11.42" fill="#4a6ac8"/>
<rect x="595.04" y="64.1" width="10.76" height="11.42" fill="#5a1818"/>
<rect x="605.8" y="64.1" width="10.76" height="11.42" fill="#7a2222"/>
<rect x="616.56" y="64.1" width="10.76" height="11.42" fill="#2e1010"/>
<rect x="627.32" y="64.1" width="10.76" height="11.42" fill="#4a1414"/>
<rect x="638.08" y="64.1" width="10.76" height="11.42" fill="#4a1414"/>
<rect x="498.2" y="75.52" width="10.76" height="11.42" fill="#3a1010"/>
<rect x="508.96" y="75.52" width="10.76" height="11.42" fill="#4e1414"/>
<rect x="519.72" y="75.52" width="10.76" height="11.42" fill="#3c1212"/>
<rect x="530.48" y="75.52" width="10.76" height="11.42" fill="#3e1212"/>
<rect x="541.24" y="75.52" width="10.76" height="11.42" fill="#080808"/>
<rect x="552" y="75.52" width="10.76" height="11.42" fill="#8a2424"/>
<rect x="562.76" y="75.52" width="10.76" height="11.42" fill="#451313"/>
<rect x="573.52" y="75.52" width="10.76" height="11.42" fill="#421313"/>
<rect x="584.28" y="75.52" width="10.76" height="11.42" fill="#4e1414"/>
<rect x="595.04" y="75.52" width="10.76" height="11.42" fill="#0a0a0a"/>
<rect x="605.8" y="75.52" width="10.76" height="11.42" fill="#c83a2a"/>
<rect x="616.56" y="75.52" width="10.76" height="11.42" fill="#2e1010"/>
<rect x="627.32" y="75.52" width="10.76" height="11.42" fill="#2e1010"/>
<rect x="638.08" y="75.52" width="10.76" height="11.42" fill="#3a1010"/>
<rect x="498.2" y="86.94" width="10.76" height="11.42" fill="#3e1212"/>
<rect x="508.96" y="86.94" width="10.76" height="11.42" fill="#4e1414"/>
<rect x="519.72" y="86.94" width="10.76" height="11.42" fill="#3e1212"/>
<rect x="530.48" y="86.94" width="10.76" height="11.42" fill="#3e1212"/>
<rect x="541.24" y="86.94" width="10.76" height="11.42" fill="#101828"/>
<rect x="552" y="86.94" width="10.76" height="11.42" fill="#4e1414"/>
<rect x="562.76" y="86.94" width="10.76" height="11.42" fill="#4e1414"/>
<rect x="573.52" y="86.94" width="10.76" height="11.42" fill="#3e1212"/>
<rect x="584.28" y="86.94" width="10.76" height="11.42" fill="#4e1414"/>
<rect x="595.04" y="86.94" width="10.76" height="11.42" fill="#3a1010"/>
<rect x="605.8" y="86.94" width="10.76" height="11.42" fill="#5a1616"/>
<rect x="616.56" y="86.94" width="10.76" height="11.42" fill="#202848"/>
<rect x="627.32" y="86.94" width="10.76" height="11.42" fill="#501414"/>
<rect x="638.08" y="86.94" width="10.76" height="11.42" fill="#2a1010"/>
<rect x="498.2" y="98.36" width="10.76" height="11.42" fill="#3e1212"/>
<rect x="508.96" y="98.36" width="10.76" height="11.42" fill="#421313"/>
<rect x="519.72" y="98.36" width="10.76" height="11.42" fill="#3e1212"/>
<rect x="530.48" y="98.36" width="10.76" height="11.42" fill="#4e1414"/>
<rect x="541.24" y="98.36" width="10.76" height="11.42" fill="#080808"/>
<rect x="552" y="98.36" width="10.76" height="11.42" fill="#3e1212"/>
<rect x="562.76" y="98.36" width="10.76" height="11.42" fill="#361010"/>
<rect x="573.52" y="98.36" width="10.76" height="11.42" fill="#3e1212"/>
<rect x="584.28" y="98.36" width="10.76" height="11.42" fill="#3a1010"/>
<rect x="595.04" y="98.36" width="10.76" height="11.42" fill="#5a1616"/>
<rect x="605.8" y="98.36" width="10.76" height="11.42" fill="#5a1818"/>
<rect x="616.56" y="98.36" width="10.76" height="11.42" fill="#4a1414"/>
<rect x="627.32" y="98.36" width="10.76" height="11.42" fill="#3a1010"/>
<rect x="638.08" y="98.36" width="10.76" height="11.42" fill="#4a1414"/>
<rect x="498.2" y="109.78" width="10.76" height="11.42" fill="#3e1212"/>
<rect x="508.96" y="109.78" width="10.76" height="11.42" fill="#4e1414"/>
<rect x="519.72" y="109.78" width="10.76" height="11.42" fill="#3e1212"/>
<rect x="530.48" y="109.78" width="10.76" height="11.42" fill="#4a1414"/>
<rect x="541.24" y="109.78" width="10.76" height="11.42" fill="#202850"/>
<rect x="552" y="109.78" width="10.76" height="11.42" fill="#3e1212"/>
<rect x="562.76" y="109.78" width="10.76" height="11.42" fill="#201010"/>
<rect x="573.52" y="109.78" width="10.76" height="11.42" fill="#2a1010"/>
<rect x="584.28" y="109.78" width="10.76" height="11.42" fill="#3e1212"/>
<rect x="595.04" y="109.78" width="10.76" height="11.42" fill="#7a2222"/>
<rect x="605.8" y="109.78" width="10.76" height="11.42" fill="#5a1818"/>
<rect x="616.56" y="109.78" width="10.76" height="11.42" fill="#201010"/>
<rect x="627.32" y="109.78" width="10.76" height="11.42" fill="#3e1212"/>
<rect x="638.08" y="109.78" width="10.76" height="11.42" fill="#4a1414"/>
<rect x="498.2" y="121.2" width="10.76" height="11.42" fill="#4a1414"/>
<rect x="508.96" y="121.2" width="10.76" height="11.42" fill="#3e1212"/>
<rect x="519.72" y="121.2" width="10.76" height="11.42" fill="#4a1414"/>
<rect x="530.48" y="121.2" width="10.76" height="11.42" fill="#3e1212"/>
<rect x="541.24" y="121.2" width="10.76" height="11.42" fill="#2a1010"/>
<rect x="552" y="121.2" width="10.76" height="11.42" fill="#101828"/>
<rect x="562.76" y="121.2" width="10.76" height="11.42" fill="#3e1212"/>
<rect x="573.52" y="121.2" width="10.76" height="11.42" fill="#3e1212"/>
<rect x="584.28" y="121.2" width="10.76" height="11.42" fill="#3e1212"/>
<rect x="595.04" y="121.2" width="10.76" height="11.42" fill="#3e1212"/>
<rect x="605.8" y="121.2" width="10.76" height="11.42" fill="#080808"/>
<rect x="616.56" y="121.2" width="10.76" height="11.42" fill="#3e1212"/>
<rect x="627.32" y="121.2" width="10.76" height="11.42" fill="#5a1616"/>
<rect x="638.08" y="121.2" width="10.76" height="11.42" fill="#4a1414"/>
<rect x="498.2" y="132.62" width="10.76" height="11.42" fill="#4a1414"/>
<rect x="508.96" y="132.62" width="10.76" height="11.42" fill="#4e1414"/>
<rect x="519.72" y="132.62" width="10.76" height="11.42" fill="#3e1212"/>
<rect x="530.48" y="132.62" width="10.76" height="11.42" fill="#3a1010"/>
<rect x="541.24" y="132.62" width="10.76" height="11.42" fill="#3e1212"/>
<rect x="552" y="132.62" width="10.76" height="11.42" fill="#3a1010"/>
<rect x="562.76" y="132.62" width="10.76" height="11.42" fill="#4a1414"/>
<rect x="573.52" y="132.62" width="10.76" height="11.42" fill="#5a1616"/>
<rect x="584.28" y="132.62" width="10.76" height="11.42" fill="#361010"/>
<rect x="595.04" y="132.62" width="10.76" height="11.42" fill="#7a2222"/>
<rect x="605.8" y="132.62" width="10.76" height="11.42" fill="#3e1212"/>
<rect x="616.56" y="132.62" width="10.76" height="11.42" fill="#3e1212"/>
<rect x="627.32" y="132.62" width="10.76" height="11.42" fill="#3e1212"/>
<rect x="638.08" y="132.62" width="10.76" height="11.42" fill="#3a1010"/>
<rect x="498.2" y="144.04" width="10.76" height="11.42" fill="#4a1414"/>
<rect x="508.96" y="144.04" width="10.76" height="11.42" fill="#4e1414"/>
<rect x="519.72" y="144.04" width="10.76" height="11.42" fill="#3e1212"/>
<rect x="530.48" y="144.04" width="10.76" height="11.42" fill="#3e1212"/>
<rect x="541.24" y="144.04" width="10.76" height="11.42" fill="#6a1a1a"/>
<rect x="552" y="144.04" width="10.76" height="11.42" fill="#421313"/>
<rect x="562.76" y="144.04" width="10.76" height="11.42" fill="#361010"/>
<rect x="573.52" y="144.04" width="10.76" height="11.42" fill="#2a1010"/>
<rect x="584.28" y="144.04" width="10.76" height="11.42" fill="#3e1212"/>
<rect x="595.04" y="144.04" width="10.76" height="11.42" fill="#8a2828"/>
<rect x="605.8" y="144.04" width="10.76" height="11.42" fill="#4e1414"/>
<rect x="616.56" y="144.04" width="10.76" height="11.42" fill="#160c0c"/>
<rect x="627.32" y="144.04" width="10.76" height="11.42" fill="#4a1414"/>
<rect x="638.08" y="144.04" width="10.76" height="11.42" fill="#4a1414"/>
<rect x="498.2" y="155.46" width="10.76" height="11.42" fill="#3a1010"/>
<rect x="508.96" y="155.46" width="10.76" height="11.42" fill="#3e1212"/>
<rect x="519.72" y="155.46" width="10.76" height="11.42" fill="#3a1010"/>
<rect x="530.48" y="155.46" width="10.76" height="11.42" fill="#4a1414"/>
<rect x="541.24" y="155.46" width="10.76" height="11.42" fill="#080c12"/>
<rect x="552" y="155.46" width="10.76" height="11.42" fill="#4a1414"/>
<rect x="562.76" y="155.46" width="10.76" height="11.42" fill="#4a1414"/>
<rect x="573.52" y="155.46" width="10.76" height="11.42" fill="#3e1212"/>
<rect x="584.28" y="155.46" width="10.76" height="11.42" fill="#3a1010"/>
<rect x="595.04" y="155.46" width="10.76" height="11.42" fill="#5a1616"/>
<rect x="605.8" y="155.46" width="10.76" height="11.42" fill="#080808"/>
<rect x="616.56" y="155.46" width="10.76" height="11.42" fill="#0c0c0c"/>
<rect x="627.32" y="155.46" width="10.76" height="11.42" fill="#3e1212"/>
<rect x="638.08" y="155.46" width="10.76" height="11.42" fill="#4a1414"/>
<rect x="498.2" y="166.88" width="10.76" height="11.42" fill="#2e1010"/>
<rect x="508.96" y="166.88" width="10.76" height="11.42" fill="#3e1212"/>
<rect x="519.72" y="166.88" width="10.76" height="11.42" fill="#3e1212"/>
<rect x="530.48" y="166.88" width="10.76" height="11.42" fill="#3e1212"/>
<rect x="541.24" y="166.88" width="10.76" height="11.42" fill="#3a1010"/>
<rect x="552" y="166.88" width="10.76" height="11.42" fill="#2a1010"/>
<rect x="562.76" y="166.88" width="10.76" height="11.42" fill="#3e1212"/>
<rect x="573.52" y="166.88" width="10.76" height="11.42" fill="#3e1212"/>
<rect x="584.28" y="166.88" width="10.76" height="11.42" fill="#3e1212"/>
<rect x="595.04" y="166.88" width="10.76" height="11.42" fill="#4e1414"/>
<rect x="605.8" y="166.88" width="10.76" height="11.42" fill="#080808"/>
<rect x="616.56" y="166.88" width="10.76" height="11.42" fill="#080808"/>
<rect x="627.32" y="166.88" width="10.76" height="11.42" fill="#3e1212"/>
<rect x="638.08" y="166.88" width="10.76" height="11.42" fill="#3e1212"/>
<rect x="498.2" y="178.3" width="10.76" height="11.42" fill="#3e1212"/>
<rect x="508.96" y="178.3" width="10.76" height="11.42" fill="#5a1616"/>
<rect x="519.72" y="178.3" width="10.76" height="11.42" fill="#2a1010"/>
<rect x="530.48" y="178.3" width="10.76" height="11.42" fill="#3e1212"/>
<rect x="541.24" y="178.3" width="10.76" height="11.42" fill="#4a1414"/>
<rect x="552" y="178.3" width="10.76" height="11.42" fill="#6a1a1a"/>
<rect x="562.76" y="178.3" width="10.76" height="11.42" fill="#6a1a1a"/>
<rect x="573.52" y="178.3" width="10.76" height="11.42" fill="#1a0c0c"/>
<rect x="584.28" y="178.3" width="10.76" height="11.42" fill="#4a1414"/>
<rect x="595.04" y="178.3" width="10.76" height="11.42" fill="#a8302a"/>
<rect x="605.8" y="178.3" width="10.76" height="11.42" fill="#6a1a1a"/>
<rect x="616.56" y="178.3" width="10.76" height="11.42" fill="#7a2222"/>
<rect x="627.32" y="178.3" width="10.76" height="11.42" fill="#3a1010"/>
<rect x="638.08" y="178.3" width="10.76" height="11.42" fill="#2e1010"/>
<rect x="498.2" y="189.72" width="10.76" height="11.42" fill="#3a1010"/>
<rect x="508.96" y="189.72" width="10.76" height="11.42" fill="#3e1212"/>
<rect x="519.72" y="189.72" width="10.76" height="11.42" fill="#3a1010"/>
<rect x="530.48" y="189.72" width="10.76" height="11.42" fill="#4a1414"/>
<rect x="541.24" y="189.72" width="10.76" height="11.42" fill="#4a1414"/>
<rect x="552" y="189.72" width="10.76" height="11.42" fill="#5a1616"/>
<rect x="562.76" y="189.72" width="10.76" height="11.42" fill="#5a1616"/>
<rect x="573.52" y="189.72" width="10.76" height="11.42" fill="#4e1414"/>
<rect x="584.28" y="189.72" width="10.76" height="11.42" fill="#3e1212"/>
<rect x="595.04" y="189.72" width="10.76" height="11.42" fill="#a8302a"/>
<rect x="605.8" y="189.72" width="10.76" height="11.42" fill="#a0302a"/>
<rect x="616.56" y="189.72" width="10.76" height="11.42" fill="#4a1414"/>
<rect x="627.32" y="189.72" width="10.76" height="11.42" fill="#4a1414"/>
<rect x="638.08" y="189.72" width="10.76" height="11.42" fill="#4a1414"/>
<rect x="498.2" y="201.14" width="10.76" height="11.42" fill="#4e1414"/>
<rect x="508.96" y="201.14" width="10.76" height="11.42" fill="#4a1414"/>
<rect x="519.72" y="201.14" width="10.76" height="11.42" fill="#3a1010"/>
<rect x="530.48" y="201.14" width="10.76" height="11.42" fill="#4a1414"/>
<rect x="541.24" y="201.14" width="10.76" height="11.42" fill="#2e1010"/>
<rect x="552" y="201.14" width="10.76" height="11.42" fill="#6a1a1a"/>
<rect x="562.76" y="201.14" width="10.76" height="11.42" fill="#4a1414"/>
<rect x="573.52" y="201.14" width="10.76" height="11.42" fill="#4e1414"/>
<rect x="584.28" y="201.14" width="10.76" height="11.42" fill="#4e1414"/>
<rect x="595.04" y="201.14" width="10.76" height="11.42" fill="#c03828"/>
<rect x="605.8" y="201.14" width="10.76" height="11.42" fill="#8a2828"/>
<rect x="616.56" y="201.14" width="10.76" height="11.42" fill="#5a1616"/>
<rect x="627.32" y="201.14" width="10.76" height="11.42" fill="#4e1414"/>
<rect x="638.08" y="201.14" width="10.76" height="11.42" fill="#3a1010"/>
<rect x="498.2" y="212.56" width="10.76" height="11.42" fill="#5a1616"/>
<rect x="508.96" y="212.56" width="10.76" height="11.42" fill="#1a0c0c"/>
<rect x="519.72" y="212.56" width="10.76" height="11.42" fill="#3e1212"/>
<rect x="530.48" y="212.56" width="10.76" height="11.42" fill="#3e1212"/>
<rect x="541.24" y="212.56" width="10.76" height="11.42" fill="#8a2828"/>
<rect x="552" y="212.56" width="10.76" height="11.42" fill="#4a1414"/>
<rect x="562.76" y="212.56" width="10.76" height="11.42" fill="#4a1414"/>
<rect x="573.52" y="212.56" width="10.76" height="11.42" fill="#3e1212"/>
<rect x="584.28" y="212.56" width="10.76" height="11.42" fill="#4a1414"/>
<rect x="595.04" y="212.56" width="10.76" height="11.42" fill="#3a1010"/>
<rect x="605.8" y="212.56" width="10.76" height="11.42" fill="#6a1a1a"/>
<rect x="616.56" y="212.56" width="10.76" height="11.42" fill="#b03020"/>
<rect x="627.32" y="212.56" width="10.76" height="11.42" fill="#3e1212"/>
<rect x="638.08" y="212.56" width="10.76" height="11.42" fill="#3e1212"/>
<rect x="498.2" y="223.98" width="10.76" height="11.42" fill="#3a1010"/>
<rect x="508.96" y="223.98" width="10.76" height="11.42" fill="#4a1414"/>
<rect x="519.72" y="223.98" width="10.76" height="11.42" fill="#3e1212"/>
<rect x="530.48" y="223.98" width="10.76" height="11.42" fill="#3e1212"/>
<rect x="541.24" y="223.98" width="10.76" height="11.42" fill="#4e1414"/>
<rect x="552" y="223.98" width="10.76" height="11.42" fill="#3a1010"/>
<rect x="562.76" y="223.98" width="10.76" height="11.42" fill="#3e1212"/>
<rect x="573.52" y="223.98" width="10.76" height="11.42" fill="#3e1212"/>
<rect x="584.28" y="223.98" width="10.76" height="11.42" fill="#3e1212"/>
<rect x="595.04" y="223.98" width="10.76" height="11.42" fill="#080808"/>
<rect x="605.8" y="223.98" width="10.76" height="11.42" fill="#4e1414"/>
<rect x="616.56" y="223.98" width="10.76" height="11.42" fill="#5a1616"/>
<rect x="627.32" y="223.98" width="10.76" height="11.42" fill="#3e1212"/>
<rect x="638.08" y="223.98" width="10.76" height="11.42" fill="#3e1212"/>
<rect x="498.2" y="235.4" width="10.76" height="11.42" fill="#4a6ac8"/>
<rect x="508.96" y="235.4" width="10.76" height="11.42" fill="#2a2a5a"/>
<rect x="519.72" y="235.4" width="10.76" height="11.42" fill="#303068"/>
<rect x="530.48" y="235.4" width="10.76" height="11.42" fill="#303a90"/>
<rect x="541.24" y="235.4" width="10.76" height="11.42" fill="#3a1010"/>
<rect x="552" y="235.4" width="10.76" height="11.42" fill="#080808"/>
<rect x="562.76" y="235.4" width="10.76" height="11.42" fill="#5a1616"/>
<rect x="573.52" y="235.4" width="10.76" height="11.42" fill="#4a1414"/>
<rect x="584.28" y="235.4" width="10.76" height="11.42" fill="#3e1212"/>
<rect x="595.04" y="235.4" width="10.76" height="11.42" fill="#0c1018"/>
<rect x="605.8" y="235.4" width="10.76" height="11.42" fill="#3a1010"/>
<rect x="616.56" y="235.4" width="10.76" height="11.42" fill="#080808"/>
<rect x="627.32" y="235.4" width="10.76" height="11.42" fill="#3e1212"/>
<rect x="638.08" y="235.4" width="10.76" height="11.42" fill="#4a1414"/>
<rect x="498.2" y="246.82" width="10.76" height="11.42" fill="#3a3aa0"/>
<rect x="508.96" y="246.82" width="10.76" height="11.42" fill="#080808"/>
<rect x="519.72" y="246.82" width="10.76" height="11.42" fill="#0c0c14"/>
<rect x="530.48" y="246.82" width="10.76" height="11.42" fill="#1a1a38"/>
<rect x="541.24" y="246.82" width="10.76" height="11.42" fill="#4e1414"/>
<rect x="552" y="246.82" width="10.76" height="11.42" fill="#3a1010"/>
<rect x="562.76" y="246.82" width="10.76" height="11.42" fill="#3e1212"/>
<rect x="573.52" y="246.82" width="10.76" height="11.42" fill="#4e1414"/>
<rect x="584.28" y="246.82" width="10.76" height="11.42" fill="#4a1414"/>
<rect x="595.04" y="246.82" width="10.76" height="11.42" fill="#e04028"/>
<rect x="605.8" y="246.82" width="10.76" height="11.42" fill="#4e1414"/>
<rect x="616.56" y="246.82" width="10.76" height="11.42" fill="#7a2222"/>
<rect x="627.32" y="246.82" width="10.76" height="11.42" fill="#3e1212"/>
<rect x="638.08" y="246.82" width="10.76" height="11.42" fill="#4a1414"/>
<rect x="498.2" y="258.24" width="10.76" height="11.42" fill="#2a2a58"/>
<rect x="508.96" y="258.24" width="10.76" height="11.42" fill="#080808"/>
<rect x="519.72" y="258.24" width="10.76" height="11.42" fill="#1a0c0c"/>
<rect x="530.48" y="258.24" width="10.76" height="11.42" fill="#0c1018"/>
<rect x="541.24" y="258.24" width="10.76" height="11.42" fill="#5a1616"/>
<rect x="552" y="258.24" width="10.76" height="11.42" fill="#6a1a1a"/>
<rect x="562.76" y="258.24" width="10.76" height="11.42" fill="#4e1414"/>
<rect x="573.52" y="258.24" width="10.76" height="11.42" fill="#4a1414"/>
<rect x="584.28" y="258.24" width="10.76" height="11.42" fill="#5a1616"/>
<rect x="595.04" y="258.24" width="10.76" height="11.42" fill="#5a1616"/>
<rect x="605.8" y="258.24" width="10.76" height="11.42" fill="#b83828"/>
<rect x="616.56" y="258.24" width="10.76" height="11.42" fill="#1a0c0c"/>
<rect x="627.32" y="258.24" width="10.76" height="11.42" fill="#4a1414"/>
<rect x="638.08" y="258.24" width="10.76" height="11.42" fill="#3e1212"/>
<line x1="498.2" y1="64.1" x2="498.2" y2="269.66" stroke="#9a8484" stroke-width="0.45"/>
<line x1="508.96" y1="64.1" x2="508.96" y2="269.66" stroke="#9a8484" stroke-width="0.45"/>
<line x1="519.72" y1="64.1" x2="519.72" y2="269.66" stroke="#9a8484" stroke-width="0.45"/>
<line x1="530.48" y1="64.1" x2="530.48" y2="269.66" stroke="#9a8484" stroke-width="0.45"/>
<line x1="541.24" y1="64.1" x2="541.24" y2="269.66" stroke="#9a8484" stroke-width="0.45"/>
<line x1="552" y1="64.1" x2="552" y2="269.66" stroke="#9a8484" stroke-width="0.45"/>
<line x1="562.76" y1="64.1" x2="562.76" y2="269.66" stroke="#9a8484" stroke-width="0.45"/>
<line x1="573.52" y1="64.1" x2="573.52" y2="269.66" stroke="#9a8484" stroke-width="0.45"/>
<line x1="584.28" y1="64.1" x2="584.28" y2="269.66" stroke="#9a8484" stroke-width="0.45"/>
<line x1="595.04" y1="64.1" x2="595.04" y2="269.66" stroke="#9a8484" stroke-width="0.45"/>
<line x1="605.8" y1="64.1" x2="605.8" y2="269.66" stroke="#9a8484" stroke-width="0.45"/>
<line x1="616.56" y1="64.1" x2="616.56" y2="269.66" stroke="#9a8484" stroke-width="0.45"/>
<line x1="627.32" y1="64.1" x2="627.32" y2="269.66" stroke="#9a8484" stroke-width="0.45"/>
<line x1="638.08" y1="64.1" x2="638.08" y2="269.66" stroke="#9a8484" stroke-width="0.45"/>
<line x1="648.84" y1="64.1" x2="648.84" y2="269.66" stroke="#9a8484" stroke-width="0.45"/>
<line x1="498.2" y1="64.1" x2="648.84" y2="64.1" stroke="#9a8484" stroke-width="0.45"/>
<line x1="498.2" y1="75.52" x2="648.84" y2="75.52" stroke="#9a8484" stroke-width="0.45"/>
<line x1="498.2" y1="86.94" x2="648.84" y2="86.94" stroke="#9a8484" stroke-width="0.45"/>
<line x1="498.2" y1="98.36" x2="648.84" y2="98.36" stroke="#9a8484" stroke-width="0.45"/>
<line x1="498.2" y1="109.78" x2="648.84" y2="109.78" stroke="#9a8484" stroke-width="0.45"/>
<line x1="498.2" y1="121.2" x2="648.84" y2="121.2" stroke="#9a8484" stroke-width="0.45"/>
<line x1="498.2" y1="132.62" x2="648.84" y2="132.62" stroke="#9a8484" stroke-width="0.45"/>
<line x1="498.2" y1="144.04" x2="648.84" y2="144.04" stroke="#9a8484" stroke-width="0.45"/>
<line x1="498.2" y1="155.46" x2="648.84" y2="155.46" stroke="#9a8484" stroke-width="0.45"/>
<line x1="498.2" y1="166.88" x2="648.84" y2="166.88" stroke="#9a8484" stroke-width="0.45"/>
<line x1="498.2" y1="178.3" x2="648.84" y2="178.3" stroke="#9a8484" stroke-width="0.45"/>
<line x1="498.2" y1="189.72" x2="648.84" y2="189.72" stroke="#9a8484" stroke-width="0.45"/>
<line x1="498.2" y1="201.14" x2="648.84" y2="201.14" stroke="#9a8484" stroke-width="0.45"/>
<line x1="498.2" y1="212.56" x2="648.84" y2="212.56" stroke="#9a8484" stroke-width="0.45"/>
<line x1="498.2" y1="223.98" x2="648.84" y2="223.98" stroke="#9a8484" stroke-width="0.45"/>
<line x1="498.2" y1="235.4" x2="648.84" y2="235.4" stroke="#9a8484" stroke-width="0.45"/>
<line x1="498.2" y1="246.82" x2="648.84" y2="246.82" stroke="#9a8484" stroke-width="0.45"/>
<line x1="498.2" y1="258.24" x2="648.84" y2="258.24" stroke="#9a8484" stroke-width="0.45"/>
<line x1="498.2" y1="269.66" x2="648.84" y2="269.66" stroke="#9a8484" stroke-width="0.45"/>
<text x="651.2" y="72.01" font-size="4.8" fill="#1a1a1a">GBM</text>
<text x="651.2" y="83.43" font-size="4.8" fill="#1a1a1a">THCA</text>
<text x="651.2" y="94.85" font-size="4.8" fill="#1a1a1a">LUSC</text>
<text x="651.2" y="106.27" font-size="4.8" fill="#1a1a1a">COAD</text>
<text x="651.2" y="117.69" font-size="4.8" fill="#1a1a1a">READ</text>
<text x="651.2" y="129.11" font-size="4.8" fill="#1a1a1a">BRCA</text>
<text x="651.2" y="140.53" font-size="4.8" fill="#1a1a1a">BLCA</text>
<text x="651.2" y="151.95" font-size="4.8" fill="#1a1a1a">UCEC</text>
<text x="651.2" y="163.37" font-size="4.8" fill="#1a1a1a">LUAD</text>
<text x="651.2" y="174.79" font-size="4.8" fill="#1a1a1a">PRAD</text>
<text x="651.2" y="186.21" font-size="4.8" fill="#1a1a1a">ESCA</text>
<text x="651.2" y="197.63" font-size="4.8" fill="#1a1a1a">HNSC</text>
<text x="651.2" y="209.05" font-size="4.8" fill="#1a1a1a">STAD</text>
<text x="651.2" y="220.47" font-size="4.8" fill="#1a1a1a">CHOL</text>
<text x="651.2" y="231.89" font-size="4.8" fill="#1a1a1a">LIHC</text>
<text x="651.2" y="243.31" font-size="4.8" fill="#1a1a1a">KICH</text>
<text x="651.2" y="254.73" font-size="4.8" fill="#1a1a1a">KIRC</text>
<text x="651.2" y="266.15" font-size="4.8" fill="#1a1a1a">KIRP</text>
<text transform="translate(501.78,272.0) rotate(90)" font-size="5.0" fill="#222">IFNA14</text>
<text transform="translate(512.54,272.0) rotate(90)" font-size="5.0" fill="#222">IFNA17</text>
<text transform="translate(523.3,272.0) rotate(90)" font-size="5.0" fill="#222">IFNA16</text>
<text transform="translate(534.06,272.0) rotate(90)" font-size="5.0" fill="#222">IFNA7</text>
<text transform="translate(544.82,272.0) rotate(90)" font-size="5.0" fill="#222">IFNA21</text>
<text transform="translate(555.58,272.0) rotate(90)" font-size="5.0" fill="#222">IFNA8</text>
<text transform="translate(566.34,272.0) rotate(90)" font-size="5.0" fill="#222">IFNA2</text>
<text transform="translate(577.1,272.0) rotate(90)" font-size="5.0" fill="#222">IFNA13</text>
<text transform="translate(587.86,272.0) rotate(90)" font-size="5.0" fill="#222">IFNA6</text>
<text transform="translate(598.62,272.0) rotate(90)" font-size="5.0" fill="#222">IFNG</text>
<text transform="translate(609.38,272.0) rotate(90)" font-size="5.0" fill="#222">IFNA1</text>
<text transform="translate(620.14,272.0) rotate(90)" font-size="5.0" fill="#222">IFNA5</text>
<text transform="translate(630.9,272.0) rotate(90)" font-size="5.0" fill="#222">IFNA10</text>
<text transform="translate(641.66,272.0) rotate(90)" font-size="5.0" fill="#222">IFNA4</text>
<path d="M525.1,64.1V59.6H535.86V64.1" stroke="#333" stroke-width="0.6" fill="none"/>
<path d="M514.34,64.1V55.8H530.48V59.6" stroke="#333" stroke-width="0.6" fill="none"/>
<path d="M503.58,64.1V48.4H522.41V55.8" stroke="#333" stroke-width="0.6" fill="none"/>
<path d="M578.9,64.1V60.5H589.66V64.1" stroke="#333" stroke-width="0.6" fill="none"/>
<path d="M568.14,64.1V58.4H584.28V60.5" stroke="#333" stroke-width="0.6" fill="none"/>
<path d="M557.38,64.1V52.6H576.21V58.4" stroke="#333" stroke-width="0.6" fill="none"/>
<path d="M546.62,64.1V47.2H566.8V52.6" stroke="#333" stroke-width="0.6" fill="none"/>
<path d="M632.7,64.1V61.2H643.46V64.1" stroke="#333" stroke-width="0.6" fill="none"/>
<path d="M621.94,64.1V50.2H638.08V61.2" stroke="#333" stroke-width="0.6" fill="none"/>
<path d="M611.18,64.1V46H630.01V50.2" stroke="#333" stroke-width="0.6" fill="none"/>
<path d="M600.42,64.1V44.2H620.6V46" stroke="#333" stroke-width="0.6" fill="none"/>
<path d="M556.71,47.2V36.2H610.51V44.2" stroke="#333" stroke-width="0.6" fill="none"/>
<path d="M513,48.4V32.5H583.61V36.2" stroke="#333" stroke-width="0.6" fill="none"/>
<path d="M498.2,104.07H494.9V115.49H498.2" stroke="#333" stroke-width="0.6" fill="none"/>
<path d="M498.2,92.65H491.9V109.78H494.9" stroke="#333" stroke-width="0.6" fill="none"/>
<path d="M498.2,81.23H490.4V101.22H491.9" stroke="#333" stroke-width="0.6" fill="none"/>
<path d="M498.2,138.33H495.5V149.75H498.2" stroke="#333" stroke-width="0.6" fill="none"/>
<path d="M498.2,161.17H495.5V172.59H498.2" stroke="#333" stroke-width="0.6" fill="none"/>
<path d="M495.5,144.04H494V166.88H495.5" stroke="#333" stroke-width="0.6" fill="none"/>
<path d="M498.2,126.91H491.9V155.46H494" stroke="#333" stroke-width="0.6" fill="none"/>
<path d="M498.2,195.43H495.5V206.85H498.2" stroke="#333" stroke-width="0.6" fill="none"/>
<path d="M498.2,184.01H493.3V201.14H495.5" stroke="#333" stroke-width="0.6" fill="none"/>
<path d="M498.2,218.27H493.3V229.69H498.2" stroke="#333" stroke-width="0.6" fill="none"/>
<path d="M493.3,192.57H489.7V223.98H493.3" stroke="#333" stroke-width="0.6" fill="none"/>
<path d="M491.9,141.19H487.4V208.28H489.7" stroke="#333" stroke-width="0.6" fill="none"/>
<path d="M490.4,91.22H485.4V174.73H487.4" stroke="#333" stroke-width="0.6" fill="none"/>
<path d="M498.2,252.53H488.4V263.95H498.2" stroke="#333" stroke-width="0.6" fill="none"/>
<path d="M498.2,241.11H483.5V258.24H488.4" stroke="#333" stroke-width="0.6" fill="none"/>
<path d="M485.4,132.98H475.4V249.68H483.5" stroke="#333" stroke-width="0.6" fill="none"/>
<path d="M498.2,69.81H466.6V191.33H475.4" stroke="#333" stroke-width="0.6" fill="none"/>
<defs><linearGradient id="gcb" x1="0" y1="0" x2="0" y2="1"><stop offset="0" stop-color="#dc3226"/><stop offset="0.25" stop-color="#8a2018"/><stop offset="0.48" stop-color="#101010"/><stop offset="0.7" stop-color="#22285a"/><stop offset="1" stop-color="#4566c8"/></linearGradient></defs>
<rect x="669" y="64" width="6.2" height="90.3" fill="url(#gcb)"/>
<text x="676.6" y="73.5" font-size="5.0" fill="#222">4</text>
<text x="676.6" y="86.5" font-size="5.0" fill="#222">2</text>
<text x="676.6" y="99.5" font-size="5.0" fill="#222">0</text>
<text x="676.6" y="112.6" font-size="5.0" fill="#222">−2</text>
<text x="676.6" y="125.6" font-size="5.0" fill="#222">−4</text>
<text x="676.6" y="137.9" font-size="5.0" fill="#222">−6</text>
<text x="676.6" y="150.5" font-size="5.0" fill="#222">−8</text>
<text transform="translate(463.29,327.70) scale(0.2704,0.2936)" font-size="100" font-weight="bold" fill="#000">H</text>
<line x1="518.3" y1="317.4" x2="518.3" y2="434.72" stroke="#e2e2e2" stroke-width="0.5"/>
<line x1="518.3" y1="317.4" x2="635.62" y2="317.4" stroke="#e2e2e2" stroke-width="0.5"/>
<line x1="526.68" y1="317.4" x2="526.68" y2="434.72" stroke="#e2e2e2" stroke-width="0.5"/>
<line x1="518.3" y1="325.78" x2="635.62" y2="325.78" stroke="#e2e2e2" stroke-width="0.5"/>
<line x1="535.06" y1="317.4" x2="535.06" y2="434.72" stroke="#e2e2e2" stroke-width="0.5"/>
<line x1="518.3" y1="334.16" x2="635.62" y2="334.16" stroke="#e2e2e2" stroke-width="0.5"/>
<line x1="543.44" y1="317.4" x2="543.44" y2="434.72" stroke="#e2e2e2" stroke-width="0.5"/>
<line x1="518.3" y1="342.54" x2="635.62" y2="342.54" stroke="#e2e2e2" stroke-width="0.5"/>
<line x1="551.82" y1="317.4" x2="551.82" y2="434.72" stroke="#e2e2e2" stroke-width="0.5"/>
<line x1="518.3" y1="350.92" x2="635.62" y2="350.92" stroke="#e2e2e2" stroke-width="0.5"/>
<line x1="560.2" y1="317.4" x2="560.2" y2="434.72" stroke="#e2e2e2" stroke-width="0.5"/>
<line x1="518.3" y1="359.3" x2="635.62" y2="359.3" stroke="#e2e2e2" stroke-width="0.5"/>
<line x1="568.58" y1="317.4" x2="568.58" y2="434.72" stroke="#e2e2e2" stroke-width="0.5"/>
<line x1="518.3" y1="367.68" x2="635.62" y2="367.68" stroke="#e2e2e2" stroke-width="0.5"/>
<line x1="576.96" y1="317.4" x2="576.96" y2="434.72" stroke="#e2e2e2" stroke-width="0.5"/>
<line x1="518.3" y1="376.06" x2="635.62" y2="376.06" stroke="#e2e2e2" stroke-width="0.5"/>
<line x1="585.34" y1="317.4" x2="585.34" y2="434.72" stroke="#e2e2e2" stroke-width="0.5"/>
<line x1="518.3" y1="384.44" x2="635.62" y2="384.44" stroke="#e2e2e2" stroke-width="0.5"/>
<line x1="593.72" y1="317.4" x2="593.72" y2="434.72" stroke="#e2e2e2" stroke-width="0.5"/>
<line x1="518.3" y1="392.82" x2="635.62" y2="392.82" stroke="#e2e2e2" stroke-width="0.5"/>
<line x1="602.1" y1="317.4" x2="602.1" y2="434.72" stroke="#e2e2e2" stroke-width="0.5"/>
<line x1="518.3" y1="401.2" x2="635.62" y2="401.2" stroke="#e2e2e2" stroke-width="0.5"/>
<line x1="610.48" y1="317.4" x2="610.48" y2="434.72" stroke="#e2e2e2" stroke-width="0.5"/>
<line x1="518.3" y1="409.58" x2="635.62" y2="409.58" stroke="#e2e2e2" stroke-width="0.5"/>
<line x1="618.86" y1="317.4" x2="618.86" y2="434.72" stroke="#e2e2e2" stroke-width="0.5"/>
<line x1="518.3" y1="417.96" x2="635.62" y2="417.96" stroke="#e2e2e2" stroke-width="0.5"/>
<line x1="627.24" y1="317.4" x2="627.24" y2="434.72" stroke="#e2e2e2" stroke-width="0.5"/>
<line x1="518.3" y1="426.34" x2="635.62" y2="426.34" stroke="#e2e2e2" stroke-width="0.5"/>
<line x1="635.62" y1="317.4" x2="635.62" y2="434.72" stroke="#e2e2e2" stroke-width="0.5"/>
<line x1="518.3" y1="434.72" x2="635.62" y2="434.72" stroke="#e2e2e2" stroke-width="0.5"/>
<text x="516.5" y="322.89" font-size="3.6" text-anchor="end" fill="#d23a3a">IFNG</text>
<text transform="translate(523.79,315.5) rotate(-90)" font-size="3.7" fill="#d23a3a">IFNG</text>
<text x="516.5" y="331.27" font-size="3.6" text-anchor="end" fill="#d23a3a">IFNA1</text>
<text transform="translate(532.17,315.5) rotate(-90)" font-size="3.7" fill="#d23a3a">IFNA1</text>
<text x="516.5" y="339.65" font-size="3.6" text-anchor="end" fill="#d23a3a">IFNA8</text>
<text transform="translate(540.55,315.5) rotate(-90)" font-size="3.7" fill="#d23a3a">IFNA8</text>
<text x="516.5" y="348.03" font-size="3.6" text-anchor="end" fill="#d23a3a">IFNA10</text>
<text transform="translate(548.93,315.5) rotate(-90)" font-size="3.7" fill="#d23a3a">IFNA10</text>
<text x="516.5" y="356.41" font-size="3.6" text-anchor="end" fill="#d23a3a">IFNA6</text>
<text transform="translate(557.31,315.5) rotate(-90)" font-size="3.7" fill="#d23a3a">IFNA6</text>
<text x="516.5" y="364.79" font-size="3.6" text-anchor="end" fill="#d23a3a">IFNA2</text>
<text transform="translate(565.69,315.5) rotate(-90)" font-size="3.7" fill="#d23a3a">IFNA2</text>
<text x="516.5" y="373.17" font-size="3.6" text-anchor="end" fill="#d23a3a">IFNA5</text>
<text transform="translate(574.07,315.5) rotate(-90)" font-size="3.7" fill="#d23a3a">IFNA5</text>
<text x="516.5" y="381.55" font-size="3.6" text-anchor="end" fill="#d23a3a">IFNA21</text>
<text transform="translate(582.45,315.5) rotate(-90)" font-size="3.7" fill="#d23a3a">IFNA21</text>
<text x="516.5" y="389.93" font-size="3.6" text-anchor="end" fill="#d23a3a">IFNA7</text>
<text transform="translate(590.83,315.5) rotate(-90)" font-size="3.7" fill="#d23a3a">IFNA7</text>
<text x="516.5" y="398.31" font-size="3.6" text-anchor="end" fill="#d23a3a">IFNA14</text>
<text transform="translate(599.21,315.5) rotate(-90)" font-size="3.7" fill="#d23a3a">IFNA14</text>
<text x="516.5" y="406.69" font-size="3.6" text-anchor="end" fill="#d23a3a">IFNA17</text>
<text transform="translate(607.59,315.5) rotate(-90)" font-size="3.7" fill="#d23a3a">IFNA17</text>
<text x="516.5" y="415.07" font-size="3.6" text-anchor="end" fill="#d23a3a">IFNA4</text>
<text transform="translate(615.97,315.5) rotate(-90)" font-size="3.7" fill="#d23a3a">IFNA4</text>
<text x="516.5" y="423.45" font-size="3.6" text-anchor="end" fill="#d23a3a">IFNA13</text>
<text transform="translate(624.35,315.5) rotate(-90)" font-size="3.7" fill="#d23a3a">IFNA13</text>
<text x="516.5" y="431.83" font-size="3.6" text-anchor="end" fill="#d23a3a">IFNA16</text>
<text transform="translate(632.73,315.5) rotate(-90)" font-size="3.7" fill="#d23a3a">IFNA16</text>
<circle cx="522.49" cy="321.59" r="3.85" fill="#202c5a"/>
<circle cx="530.87" cy="321.59" r="1.26" fill="#eff6fa"/>
<circle cx="539.25" cy="321.59" r="0.79" fill="#fafcfe"/>
<circle cx="547.63" cy="321.59" r="1.18" fill="#fef4ee"/>
<circle cx="556.01" cy="321.59" r="1.26" fill="#fef2eb"/>
<circle cx="564.39" cy="321.59" r="1.18" fill="#fef4ee"/>
<circle cx="572.77" cy="321.59" r="0.79" fill="#fffbf9"/>
<circle cx="581.15" cy="321.59" r="0.79" fill="#fffbf9"/>
<circle cx="589.53" cy="321.59" r="0.79" fill="#fafcfe"/>
<circle cx="597.91" cy="321.59" r="0.79" fill="#fafcfe"/>
<circle cx="606.29" cy="321.59" r="0.63" fill="#fdfefe"/>
<circle cx="614.67" cy="321.59" r="0.63" fill="#fdfefe"/>
<circle cx="623.05" cy="321.59" r="0.91" fill="#f8fbfd"/>
<circle cx="631.43" cy="321.59" r="0.79" fill="#fafcfe"/>
<text x="522.49" y="331.07" font-size="3.2" font-weight="bold" text-anchor="middle" fill="#111">0.07</text>
<circle cx="530.87" cy="329.97" r="3.85" fill="#202c5a"/>
<circle cx="539.25" cy="329.97" r="2.19" fill="#bedbeb"/>
<circle cx="547.63" cy="329.97" r="1.82" fill="#d8e9f2"/>
<circle cx="556.01" cy="329.97" r="1.72" fill="#dcecf4"/>
<circle cx="564.39" cy="329.97" r="1.57" fill="#e3eff6"/>
<circle cx="572.77" cy="329.97" r="1.1" fill="#f4f8fb"/>
<circle cx="581.15" cy="329.97" r="1.1" fill="#f4f8fb"/>
<circle cx="589.53" cy="329.97" r="1.1" fill="#f4f8fb"/>
<circle cx="597.91" cy="329.97" r="1.1" fill="#f4f8fb"/>
<circle cx="606.29" cy="329.97" r="1.1" fill="#f4f8fb"/>
<circle cx="614.67" cy="329.97" r="1.1" fill="#f4f8fb"/>
<circle cx="623.05" cy="329.97" r="1.1" fill="#f4f8fb"/>
<circle cx="631.43" cy="329.97" r="1.1" fill="#f4f8fb"/>
<text x="522.49" y="339.45" font-size="3.2" font-weight="bold" text-anchor="middle" fill="#111">0.02</text>
<text x="530.87" y="339.45" font-size="3.2" font-weight="bold" text-anchor="middle" fill="#111">0.26</text>
<circle cx="539.25" cy="338.35" r="3.85" fill="#202c5a"/>
<circle cx="547.63" cy="338.35" r="1.95" fill="#d1e5f0"/>
<circle cx="556.01" cy="338.35" r="1.91" fill="#d3e6f1"/>
<circle cx="564.39" cy="338.35" r="1.77" fill="#daeaf3"/>
<circle cx="572.77" cy="338.35" r="1.26" fill="#eff6fa"/>
<circle cx="581.15" cy="338.35" r="1.39" fill="#eaf3f8"/>
<circle cx="589.53" cy="338.35" r="1.39" fill="#eaf3f8"/>
<circle cx="597.91" cy="338.35" r="1.26" fill="#eff6fa"/>
<circle cx="606.29" cy="338.35" r="1.32" fill="#edf5f9"/>
<circle cx="614.67" cy="338.35" r="1.26" fill="#eff6fa"/>
<circle cx="623.05" cy="338.35" r="1.32" fill="#edf5f9"/>
<circle cx="631.43" cy="338.35" r="1.39" fill="#eaf3f8"/>
<text x="522.49" y="347.83" font-size="3.2" font-weight="bold" text-anchor="middle" fill="#111">−0.06</text>
<text x="530.87" y="347.83" font-size="3.2" font-weight="bold" text-anchor="middle" fill="#111">0.17</text>
<text x="539.25" y="347.83" font-size="3.2" font-weight="bold" text-anchor="middle" fill="#111">0.20</text>
<circle cx="547.63" cy="346.73" r="3.85" fill="#202c5a"/>
<circle cx="556.01" cy="346.73" r="2.47" fill="#a5cfe3"/>
<circle cx="564.39" cy="346.73" r="2.4" fill="#abd2e5"/>
<circle cx="572.77" cy="346.73" r="1.18" fill="#f1f7fa"/>
<circle cx="581.15" cy="346.73" r="0.91" fill="#f8fbfd"/>
<circle cx="589.53" cy="346.73" r="1.67" fill="#dfedf4"/>
<circle cx="597.91" cy="346.73" r="1.57" fill="#e3eff6"/>
<circle cx="606.29" cy="346.73" r="1.57" fill="#e3eff6"/>
<circle cx="614.67" cy="346.73" r="1.51" fill="#e6f1f7"/>
<circle cx="623.05" cy="346.73" r="1.57" fill="#e3eff6"/>
<circle cx="631.43" cy="346.73" r="1.51" fill="#e6f1f7"/>
<text x="522.49" y="356.21" font-size="3.2" font-weight="bold" text-anchor="middle" fill="#111">−0.07</text>
<text x="530.87" y="356.21" font-size="3.2" font-weight="bold" text-anchor="middle" fill="#111">0.15</text>
<text x="539.25" y="356.21" font-size="3.2" font-weight="bold" text-anchor="middle" fill="#111">0.19</text>
<text x="547.63" y="356.21" font-size="3.2" font-weight="bold" text-anchor="middle" fill="#111">0.34</text>
<circle cx="556.01" cy="355.11" r="3.85" fill="#202c5a"/>
<circle cx="564.39" cy="355.11" r="2.19" fill="#bedbeb"/>
<circle cx="572.77" cy="355.11" r="1.51" fill="#e6f1f7"/>
<circle cx="581.15" cy="355.11" r="1.45" fill="#e8f2f8"/>
<circle cx="589.53" cy="355.11" r="1.62" fill="#e1eef5"/>
<circle cx="597.91" cy="355.11" r="1.57" fill="#e3eff6"/>
<circle cx="606.29" cy="355.11" r="1.62" fill="#e1eef5"/>
<circle cx="614.67" cy="355.11" r="1.57" fill="#e3eff6"/>
<circle cx="623.05" cy="355.11" r="1.45" fill="#e8f2f8"/>
<circle cx="631.43" cy="355.11" r="0.79" fill="#fafcfe"/>
<text x="522.49" y="364.59" font-size="3.2" font-weight="bold" text-anchor="middle" fill="#111">−0.06</text>
<text x="530.87" y="364.59" font-size="3.2" font-weight="bold" text-anchor="middle" fill="#111">0.12</text>
<text x="539.25" y="364.59" font-size="3.2" font-weight="bold" text-anchor="middle" fill="#111">0.16</text>
<text x="547.63" y="364.59" font-size="3.2" font-weight="bold" text-anchor="middle" fill="#111">0.32</text>
<text x="556.01" y="364.59" font-size="3.2" font-weight="bold" text-anchor="middle" fill="#111">0.26</text>
<circle cx="564.39" cy="363.49" r="3.85" fill="#202c5a"/>
<circle cx="572.77" cy="363.49" r="1.45" fill="#e8f2f8"/>
<circle cx="581.15" cy="363.49" r="1.57" fill="#e3eff6"/>
<circle cx="589.53" cy="363.49" r="1.67" fill="#dfedf4"/>
<circle cx="597.91" cy="363.49" r="1.51" fill="#e6f1f7"/>
<circle cx="606.29" cy="363.49" r="1.57" fill="#e3eff6"/>
<circle cx="614.67" cy="363.49" r="1.51" fill="#e6f1f7"/>
<circle cx="623.05" cy="363.49" r="1.51" fill="#e6f1f7"/>
<circle cx="631.43" cy="363.49" r="1.57" fill="#e3eff6"/>
<text x="522.49" y="372.97" font-size="3.2" font-weight="bold" text-anchor="middle" fill="#111">−0.02</text>
<text x="530.87" y="372.97" font-size="3.2" font-weight="bold" text-anchor="middle" fill="#111">0.05</text>
<text x="539.25" y="372.97" font-size="3.2" font-weight="bold" text-anchor="middle" fill="#111">0.07</text>
<text x="547.63" y="372.97" font-size="3.2" font-weight="bold" text-anchor="middle" fill="#111">0.06</text>
<text x="556.01" y="372.97" font-size="3.2" font-weight="bold" text-anchor="middle" fill="#111">0.11</text>
<text x="564.39" y="372.97" font-size="3.2" font-weight="bold" text-anchor="middle" fill="#111">0.10</text>
<circle cx="572.77" cy="371.87" r="3.85" fill="#202c5a"/>
<circle cx="581.15" cy="371.87" r="1.77" fill="#daeaf3"/>
<circle cx="589.53" cy="371.87" r="1.26" fill="#eff6fa"/>
<circle cx="597.91" cy="371.87" r="1.57" fill="#e3eff6"/>
<circle cx="606.29" cy="371.87" r="1.51" fill="#e6f1f7"/>
<circle cx="614.67" cy="371.87" r="1.32" fill="#edf5f9"/>
<circle cx="623.05" cy="371.87" r="1.45" fill="#e8f2f8"/>
<circle cx="631.43" cy="371.87" r="1.26" fill="#eff6fa"/>
<text x="522.49" y="381.35" font-size="3.2" font-weight="bold" text-anchor="middle" fill="#111">−0.02</text>
<text x="530.87" y="381.35" font-size="3.2" font-weight="bold" text-anchor="middle" fill="#111">0.05</text>
<text x="539.25" y="381.35" font-size="3.2" font-weight="bold" text-anchor="middle" fill="#111">0.09</text>
<text x="547.63" y="381.35" font-size="3.2" font-weight="bold" text-anchor="middle" fill="#111">0.03</text>
<text x="556.01" y="381.35" font-size="3.2" font-weight="bold" text-anchor="middle" fill="#111">0.10</text>
<text x="564.39" y="381.35" font-size="3.2" font-weight="bold" text-anchor="middle" fill="#111">0.12</text>
<text x="572.77" y="381.35" font-size="3.2" font-weight="bold" text-anchor="middle" fill="#111">0.16</text>
<circle cx="581.15" cy="380.25" r="3.85" fill="#202c5a"/>
<circle cx="589.53" cy="380.25" r="1.91" fill="#d3e6f1"/>
<circle cx="597.91" cy="380.25" r="1.77" fill="#daeaf3"/>
<circle cx="606.29" cy="380.25" r="1.51" fill="#e6f1f7"/>
<circle cx="614.67" cy="380.25" r="1.82" fill="#d8e9f2"/>
<circle cx="623.05" cy="380.25" r="1.57" fill="#e3eff6"/>
<circle cx="631.43" cy="380.25" r="1.57" fill="#e3eff6"/>
<text x="522.49" y="389.73" font-size="3.2" font-weight="bold" text-anchor="middle" fill="#111">0.02</text>
<text x="530.87" y="389.73" font-size="3.2" font-weight="bold" text-anchor="middle" fill="#111">0.05</text>
<text x="539.25" y="389.73" font-size="3.2" font-weight="bold" text-anchor="middle" fill="#111">0.09</text>
<text x="547.63" y="389.73" font-size="3.2" font-weight="bold" text-anchor="middle" fill="#111">0.14</text>
<text x="556.01" y="389.73" font-size="3.2" font-weight="bold" text-anchor="middle" fill="#111">0.13</text>
<text x="564.39" y="389.73" font-size="3.2" font-weight="bold" text-anchor="middle" fill="#111">0.14</text>
<text x="572.77" y="389.73" font-size="3.2" font-weight="bold" text-anchor="middle" fill="#111">0.07</text>
<text x="581.15" y="389.73" font-size="3.2" font-weight="bold" text-anchor="middle" fill="#111">0.19</text>
<circle cx="589.53" cy="388.63" r="3.85" fill="#202c5a"/>
<circle cx="597.91" cy="388.63" r="1.95" fill="#d1e5f0"/>
<circle cx="606.29" cy="388.63" r="1.91" fill="#d3e6f1"/>
<circle cx="614.67" cy="388.63" r="1.95" fill="#d1e5f0"/>
<circle cx="623.05" cy="388.63" r="1.95" fill="#d1e5f0"/>
<circle cx="631.43" cy="388.63" r="2.07" fill="#c8e0ed"/>
<text x="522.49" y="398.11" font-size="3.2" font-weight="bold" text-anchor="middle" fill="#111">0.02</text>
<text x="530.87" y="398.11" font-size="3.2" font-weight="bold" text-anchor="middle" fill="#111">0.05</text>
<text x="539.25" y="398.11" font-size="3.2" font-weight="bold" text-anchor="middle" fill="#111">0.07</text>
<text x="547.63" y="398.11" font-size="3.2" font-weight="bold" text-anchor="middle" fill="#111">0.12</text>
<text x="556.01" y="398.11" font-size="3.2" font-weight="bold" text-anchor="middle" fill="#111">0.12</text>
<text x="564.39" y="398.11" font-size="3.2" font-weight="bold" text-anchor="middle" fill="#111">0.11</text>
<text x="572.77" y="398.11" font-size="3.2" font-weight="bold" text-anchor="middle" fill="#111">0.12</text>
<text x="581.15" y="398.11" font-size="3.2" font-weight="bold" text-anchor="middle" fill="#111">0.16</text>
<text x="589.53" y="398.11" font-size="3.2" font-weight="bold" text-anchor="middle" fill="#111">0.20</text>
<circle cx="597.91" cy="397.01" r="3.85" fill="#202c5a"/>
<circle cx="606.29" cy="397.01" r="1.91" fill="#d3e6f1"/>
<circle cx="614.67" cy="397.01" r="2.15" fill="#c1ddec"/>
<circle cx="623.05" cy="397.01" r="1.72" fill="#dcecf4"/>
<circle cx="631.43" cy="397.01" r="1.62" fill="#e1eef5"/>
<text x="522.49" y="406.49" font-size="3.2" font-weight="bold" text-anchor="middle" fill="#111">0.01</text>
<text x="530.87" y="406.49" font-size="3.2" font-weight="bold" text-anchor="middle" fill="#111">0.05</text>
<text x="539.25" y="406.49" font-size="3.2" font-weight="bold" text-anchor="middle" fill="#111">0.08</text>
<text x="547.63" y="406.49" font-size="3.2" font-weight="bold" text-anchor="middle" fill="#111">0.12</text>
<text x="556.01" y="406.49" font-size="3.2" font-weight="bold" text-anchor="middle" fill="#111">0.13</text>
<text x="564.39" y="406.49" font-size="3.2" font-weight="bold" text-anchor="middle" fill="#111">0.12</text>
<text x="572.77" y="406.49" font-size="3.2" font-weight="bold" text-anchor="middle" fill="#111">0.11</text>
<text x="581.15" y="406.49" font-size="3.2" font-weight="bold" text-anchor="middle" fill="#111">0.11</text>
<text x="589.53" y="406.49" font-size="3.2" font-weight="bold" text-anchor="middle" fill="#111">0.19</text>
<text x="597.91" y="406.49" font-size="3.2" font-weight="bold" text-anchor="middle" fill="#111">0.19</text>
<circle cx="606.29" cy="405.39" r="3.85" fill="#202c5a"/>
<circle cx="614.67" cy="405.39" r="1.86" fill="#d6e8f2"/>
<circle cx="623.05" cy="405.39" r="1.86" fill="#d6e8f2"/>
<circle cx="631.43" cy="405.39" r="2.11" fill="#c4dfec"/>
<text x="522.49" y="414.87" font-size="3.2" font-weight="bold" text-anchor="middle" fill="#111">0.01</text>
<text x="530.87" y="414.87" font-size="3.2" font-weight="bold" text-anchor="middle" fill="#111">0.05</text>
<text x="539.25" y="414.87" font-size="3.2" font-weight="bold" text-anchor="middle" fill="#111">0.07</text>
<text x="547.63" y="414.87" font-size="3.2" font-weight="bold" text-anchor="middle" fill="#111">0.11</text>
<text x="556.01" y="414.87" font-size="3.2" font-weight="bold" text-anchor="middle" fill="#111">0.12</text>
<text x="564.39" y="414.87" font-size="3.2" font-weight="bold" text-anchor="middle" fill="#111">0.11</text>
<text x="572.77" y="414.87" font-size="3.2" font-weight="bold" text-anchor="middle" fill="#111">0.08</text>
<text x="581.15" y="414.87" font-size="3.2" font-weight="bold" text-anchor="middle" fill="#111">0.17</text>
<text x="589.53" y="414.87" font-size="3.2" font-weight="bold" text-anchor="middle" fill="#111">0.20</text>
<text x="597.91" y="414.87" font-size="3.2" font-weight="bold" text-anchor="middle" fill="#111">0.25</text>
<text x="606.29" y="414.87" font-size="3.2" font-weight="bold" text-anchor="middle" fill="#111">0.18</text>
<circle cx="614.67" cy="413.77" r="3.85" fill="#202c5a"/>
<circle cx="623.05" cy="413.77" r="2.15" fill="#c1ddec"/>
<circle cx="631.43" cy="413.77" r="1.62" fill="#e1eef5"/>
<text x="522.49" y="423.25" font-size="3.2" font-weight="bold" text-anchor="middle" fill="#111">0.03</text>
<text x="530.87" y="423.25" font-size="3.2" font-weight="bold" text-anchor="middle" fill="#111">0.05</text>
<text x="539.25" y="423.25" font-size="3.2" font-weight="bold" text-anchor="middle" fill="#111">0.08</text>
<text x="547.63" y="423.25" font-size="3.2" font-weight="bold" text-anchor="middle" fill="#111">0.12</text>
<text x="556.01" y="423.25" font-size="3.2" font-weight="bold" text-anchor="middle" fill="#111">0.10</text>
<text x="564.39" y="423.25" font-size="3.2" font-weight="bold" text-anchor="middle" fill="#111">0.11</text>
<text x="572.77" y="423.25" font-size="3.2" font-weight="bold" text-anchor="middle" fill="#111">0.10</text>
<text x="581.15" y="423.25" font-size="3.2" font-weight="bold" text-anchor="middle" fill="#111">0.12</text>
<text x="589.53" y="423.25" font-size="3.2" font-weight="bold" text-anchor="middle" fill="#111">0.20</text>
<text x="597.91" y="423.25" font-size="3.2" font-weight="bold" text-anchor="middle" fill="#111">0.15</text>
<text x="606.29" y="423.25" font-size="3.2" font-weight="bold" text-anchor="middle" fill="#111">0.18</text>
<text x="614.67" y="423.25" font-size="3.2" font-weight="bold" text-anchor="middle" fill="#111">0.25</text>
<circle cx="623.05" cy="422.15" r="3.85" fill="#202c5a"/>
<circle cx="631.43" cy="422.15" r="1.82" fill="#d8e9f2"/>
<text x="522.49" y="431.63" font-size="3.2" font-weight="bold" text-anchor="middle" fill="#111">0.02</text>
<text x="530.87" y="431.63" font-size="3.2" font-weight="bold" text-anchor="middle" fill="#111">0.05</text>
<text x="539.25" y="431.63" font-size="3.2" font-weight="bold" text-anchor="middle" fill="#111">0.09</text>
<text x="547.63" y="431.63" font-size="3.2" font-weight="bold" text-anchor="middle" fill="#111">0.11</text>
<text x="556.01" y="431.63" font-size="3.2" font-weight="bold" text-anchor="middle" fill="#111">0.02</text>
<text x="564.39" y="431.63" font-size="3.2" font-weight="bold" text-anchor="middle" fill="#111">0.12</text>
<text x="572.77" y="431.63" font-size="3.2" font-weight="bold" text-anchor="middle" fill="#111">0.07</text>
<text x="581.15" y="431.63" font-size="3.2" font-weight="bold" text-anchor="middle" fill="#111">0.12</text>
<text x="589.53" y="431.63" font-size="3.2" font-weight="bold" text-anchor="middle" fill="#111">0.23</text>
<text x="597.91" y="431.63" font-size="3.2" font-weight="bold" text-anchor="middle" fill="#111">0.13</text>
<text x="606.29" y="431.63" font-size="3.2" font-weight="bold" text-anchor="middle" fill="#111">0.24</text>
<text x="614.67" y="431.63" font-size="3.2" font-weight="bold" text-anchor="middle" fill="#111">0.13</text>
<text x="623.05" y="431.63" font-size="3.2" font-weight="bold" text-anchor="middle" fill="#111">0.17</text>
<circle cx="631.43" cy="430.53" r="3.85" fill="#202c5a"/>
<defs><linearGradient id="hcb" x1="0" y1="0" x2="0" y2="1"><stop offset="0" stop-color="#053061"/><stop offset="0.1" stop-color="#2166ac"/><stop offset="0.2" stop-color="#4393c3"/><stop offset="0.3" stop-color="#92c5de"/><stop offset="0.4" stop-color="#d1e5f0"/><stop offset="0.5" stop-color="#ffffff"/><stop offset="0.6" stop-color="#fddbc7"/><stop offset="0.7" stop-color="#f4a582"/><stop offset="0.8" stop-color="#d6604d"/><stop offset="0.9" stop-color="#b2182b"/><stop offset="1" stop-color="#67001f"/></linearGradient></defs>
<rect x="638.2" y="316.7" width="4.5" height="117.8" fill="url(#hcb)"/>
<text x="645.4" y="317.7" font-size="2.8" fill="#333">1</text>
<text x="645.4" y="329.48" font-size="2.8" fill="#333">0.8</text>
<text x="645.4" y="341.26" font-size="2.8" fill="#333">0.6</text>
<text x="645.4" y="353.04" font-size="2.8" fill="#333">0.4</text>
<text x="645.4" y="364.82" font-size="2.8" fill="#333">0.2</text>
<text x="645.4" y="376.6" font-size="2.8" fill="#333">0</text>
<text x="645.4" y="388.38" font-size="2.8" fill="#333">−0.2</text>
<text x="645.4" y="400.16" font-size="2.8" fill="#333">−0.4</text>
<text x="645.4" y="411.94" font-size="2.8" fill="#333">−0.6</text>
<text x="645.4" y="423.72" font-size="2.8" fill="#333">−0.8</text>
<text x="645.4" y="435.5" font-size="2.8" fill="#333">−1</text>
</svg>
</body></html>
